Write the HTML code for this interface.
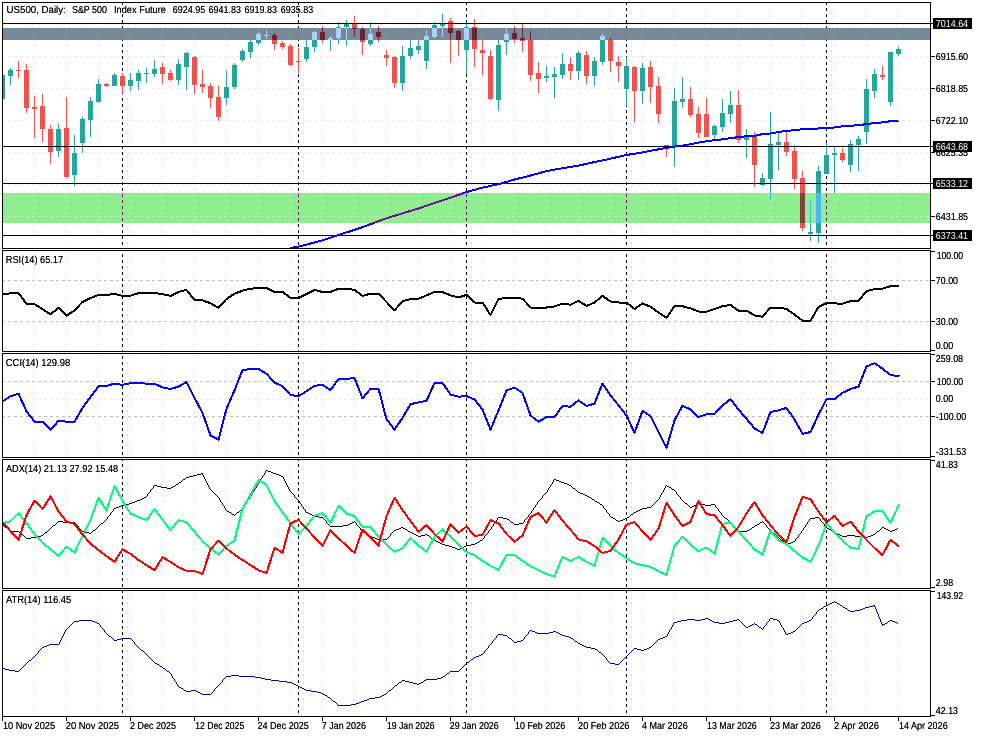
<!DOCTYPE html>
<html lang="en"><head><meta charset="utf-8"><title>US500 Daily chart</title>
<style>
html,body{margin:0;padding:0;background:#fff;overflow:hidden}
svg{display:block;position:absolute;left:0;top:0}
</style></head>
<body>
<svg width="983" height="737" viewBox="0 0 983 737" shape-rendering="crispEdges">
<rect x="0" y="0" width="983" height="737" fill="#fff"/>
<rect x="3" y="28" width="927" height="12" fill="#778899"/>
<rect x="3" y="193" width="927" height="30" fill="#90ee90"/>
<defs><clipPath id="band0"><rect x="3" y="28" width="927" height="12"/></clipPath><clipPath id="band1"><rect x="3" y="193" width="927" height="30"/></clipPath></defs>
<g id="grid">
<line x1="3" y1="24.5" x2="930" y2="24.5" stroke-dasharray="3 3" stroke-dashoffset="1" stroke="#f0eaf2"/>
<line x1="3" y1="56.5" x2="930" y2="56.5" stroke-dasharray="3 3" stroke-dashoffset="1" stroke="#f0eaf2"/>
<line x1="3" y1="88.5" x2="930" y2="88.5" stroke-dasharray="3 3" stroke-dashoffset="1" stroke="#f0eaf2"/>
<line x1="3" y1="120.5" x2="930" y2="120.5" stroke-dasharray="3 3" stroke-dashoffset="1" stroke="#f0eaf2"/>
<line x1="3" y1="152.5" x2="930" y2="152.5" stroke-dasharray="3 3" stroke-dashoffset="1" stroke="#f0eaf2"/>
<line x1="3" y1="184.5" x2="930" y2="184.5" stroke-dasharray="3 3" stroke-dashoffset="1" stroke="#f0eaf2"/>
<line x1="3" y1="216.5" x2="930" y2="216.5" stroke-dasharray="3 3" stroke-dashoffset="1" stroke="#a2fca2"/>
<line x1="34.5" y1="3" x2="34.5" y2="248" stroke-dasharray="3 3" stroke-dashoffset="1" stroke="#f0eaf2"/>
<g clip-path="url(#band0)"><line x1="34.5" y1="3" x2="34.5" y2="248" stroke-dasharray="3 3" stroke-dashoffset="1" stroke="#6fa583"/></g>
<g clip-path="url(#band1)"><line x1="34.5" y1="3" x2="34.5" y2="248" stroke-dasharray="3 3" stroke-dashoffset="1" stroke="#a2fca2"/></g>
<line x1="66.5" y1="3" x2="66.5" y2="248" stroke-dasharray="3 3" stroke-dashoffset="1" stroke="#f0eaf2"/>
<g clip-path="url(#band0)"><line x1="66.5" y1="3" x2="66.5" y2="248" stroke-dasharray="3 3" stroke-dashoffset="1" stroke="#6fa583"/></g>
<g clip-path="url(#band1)"><line x1="66.5" y1="3" x2="66.5" y2="248" stroke-dasharray="3 3" stroke-dashoffset="1" stroke="#a2fca2"/></g>
<line x1="98.5" y1="3" x2="98.5" y2="248" stroke-dasharray="3 3" stroke-dashoffset="1" stroke="#f0eaf2"/>
<g clip-path="url(#band0)"><line x1="98.5" y1="3" x2="98.5" y2="248" stroke-dasharray="3 3" stroke-dashoffset="1" stroke="#6fa583"/></g>
<g clip-path="url(#band1)"><line x1="98.5" y1="3" x2="98.5" y2="248" stroke-dasharray="3 3" stroke-dashoffset="1" stroke="#a2fca2"/></g>
<line x1="130.5" y1="3" x2="130.5" y2="248" stroke-dasharray="3 3" stroke-dashoffset="1" stroke="#f0eaf2"/>
<g clip-path="url(#band0)"><line x1="130.5" y1="3" x2="130.5" y2="248" stroke-dasharray="3 3" stroke-dashoffset="1" stroke="#6fa583"/></g>
<g clip-path="url(#band1)"><line x1="130.5" y1="3" x2="130.5" y2="248" stroke-dasharray="3 3" stroke-dashoffset="1" stroke="#a2fca2"/></g>
<line x1="162.5" y1="3" x2="162.5" y2="248" stroke-dasharray="3 3" stroke-dashoffset="1" stroke="#f0eaf2"/>
<g clip-path="url(#band0)"><line x1="162.5" y1="3" x2="162.5" y2="248" stroke-dasharray="3 3" stroke-dashoffset="1" stroke="#6fa583"/></g>
<g clip-path="url(#band1)"><line x1="162.5" y1="3" x2="162.5" y2="248" stroke-dasharray="3 3" stroke-dashoffset="1" stroke="#a2fca2"/></g>
<line x1="194.5" y1="3" x2="194.5" y2="248" stroke-dasharray="3 3" stroke-dashoffset="1" stroke="#f0eaf2"/>
<g clip-path="url(#band0)"><line x1="194.5" y1="3" x2="194.5" y2="248" stroke-dasharray="3 3" stroke-dashoffset="1" stroke="#6fa583"/></g>
<g clip-path="url(#band1)"><line x1="194.5" y1="3" x2="194.5" y2="248" stroke-dasharray="3 3" stroke-dashoffset="1" stroke="#a2fca2"/></g>
<line x1="226.5" y1="3" x2="226.5" y2="248" stroke-dasharray="3 3" stroke-dashoffset="1" stroke="#f0eaf2"/>
<g clip-path="url(#band0)"><line x1="226.5" y1="3" x2="226.5" y2="248" stroke-dasharray="3 3" stroke-dashoffset="1" stroke="#6fa583"/></g>
<g clip-path="url(#band1)"><line x1="226.5" y1="3" x2="226.5" y2="248" stroke-dasharray="3 3" stroke-dashoffset="1" stroke="#a2fca2"/></g>
<line x1="258.5" y1="3" x2="258.5" y2="248" stroke-dasharray="3 3" stroke-dashoffset="1" stroke="#f0eaf2"/>
<g clip-path="url(#band0)"><line x1="258.5" y1="3" x2="258.5" y2="248" stroke-dasharray="3 3" stroke-dashoffset="1" stroke="#6fa583"/></g>
<g clip-path="url(#band1)"><line x1="258.5" y1="3" x2="258.5" y2="248" stroke-dasharray="3 3" stroke-dashoffset="1" stroke="#a2fca2"/></g>
<line x1="290.5" y1="3" x2="290.5" y2="248" stroke-dasharray="3 3" stroke-dashoffset="1" stroke="#f0eaf2"/>
<g clip-path="url(#band0)"><line x1="290.5" y1="3" x2="290.5" y2="248" stroke-dasharray="3 3" stroke-dashoffset="1" stroke="#6fa583"/></g>
<g clip-path="url(#band1)"><line x1="290.5" y1="3" x2="290.5" y2="248" stroke-dasharray="3 3" stroke-dashoffset="1" stroke="#a2fca2"/></g>
<line x1="322.5" y1="3" x2="322.5" y2="248" stroke-dasharray="3 3" stroke-dashoffset="1" stroke="#f0eaf2"/>
<g clip-path="url(#band0)"><line x1="322.5" y1="3" x2="322.5" y2="248" stroke-dasharray="3 3" stroke-dashoffset="1" stroke="#6fa583"/></g>
<g clip-path="url(#band1)"><line x1="322.5" y1="3" x2="322.5" y2="248" stroke-dasharray="3 3" stroke-dashoffset="1" stroke="#a2fca2"/></g>
<line x1="354.5" y1="3" x2="354.5" y2="248" stroke-dasharray="3 3" stroke-dashoffset="1" stroke="#f0eaf2"/>
<g clip-path="url(#band0)"><line x1="354.5" y1="3" x2="354.5" y2="248" stroke-dasharray="3 3" stroke-dashoffset="1" stroke="#6fa583"/></g>
<g clip-path="url(#band1)"><line x1="354.5" y1="3" x2="354.5" y2="248" stroke-dasharray="3 3" stroke-dashoffset="1" stroke="#a2fca2"/></g>
<line x1="386.5" y1="3" x2="386.5" y2="248" stroke-dasharray="3 3" stroke-dashoffset="1" stroke="#f0eaf2"/>
<g clip-path="url(#band0)"><line x1="386.5" y1="3" x2="386.5" y2="248" stroke-dasharray="3 3" stroke-dashoffset="1" stroke="#6fa583"/></g>
<g clip-path="url(#band1)"><line x1="386.5" y1="3" x2="386.5" y2="248" stroke-dasharray="3 3" stroke-dashoffset="1" stroke="#a2fca2"/></g>
<line x1="418.5" y1="3" x2="418.5" y2="248" stroke-dasharray="3 3" stroke-dashoffset="1" stroke="#f0eaf2"/>
<g clip-path="url(#band0)"><line x1="418.5" y1="3" x2="418.5" y2="248" stroke-dasharray="3 3" stroke-dashoffset="1" stroke="#6fa583"/></g>
<g clip-path="url(#band1)"><line x1="418.5" y1="3" x2="418.5" y2="248" stroke-dasharray="3 3" stroke-dashoffset="1" stroke="#a2fca2"/></g>
<line x1="450.5" y1="3" x2="450.5" y2="248" stroke-dasharray="3 3" stroke-dashoffset="1" stroke="#f0eaf2"/>
<g clip-path="url(#band0)"><line x1="450.5" y1="3" x2="450.5" y2="248" stroke-dasharray="3 3" stroke-dashoffset="1" stroke="#6fa583"/></g>
<g clip-path="url(#band1)"><line x1="450.5" y1="3" x2="450.5" y2="248" stroke-dasharray="3 3" stroke-dashoffset="1" stroke="#a2fca2"/></g>
<line x1="482.5" y1="3" x2="482.5" y2="248" stroke-dasharray="3 3" stroke-dashoffset="1" stroke="#f0eaf2"/>
<g clip-path="url(#band0)"><line x1="482.5" y1="3" x2="482.5" y2="248" stroke-dasharray="3 3" stroke-dashoffset="1" stroke="#6fa583"/></g>
<g clip-path="url(#band1)"><line x1="482.5" y1="3" x2="482.5" y2="248" stroke-dasharray="3 3" stroke-dashoffset="1" stroke="#a2fca2"/></g>
<line x1="514.5" y1="3" x2="514.5" y2="248" stroke-dasharray="3 3" stroke-dashoffset="1" stroke="#f0eaf2"/>
<g clip-path="url(#band0)"><line x1="514.5" y1="3" x2="514.5" y2="248" stroke-dasharray="3 3" stroke-dashoffset="1" stroke="#6fa583"/></g>
<g clip-path="url(#band1)"><line x1="514.5" y1="3" x2="514.5" y2="248" stroke-dasharray="3 3" stroke-dashoffset="1" stroke="#a2fca2"/></g>
<line x1="546.5" y1="3" x2="546.5" y2="248" stroke-dasharray="3 3" stroke-dashoffset="1" stroke="#f0eaf2"/>
<g clip-path="url(#band0)"><line x1="546.5" y1="3" x2="546.5" y2="248" stroke-dasharray="3 3" stroke-dashoffset="1" stroke="#6fa583"/></g>
<g clip-path="url(#band1)"><line x1="546.5" y1="3" x2="546.5" y2="248" stroke-dasharray="3 3" stroke-dashoffset="1" stroke="#a2fca2"/></g>
<line x1="578.5" y1="3" x2="578.5" y2="248" stroke-dasharray="3 3" stroke-dashoffset="1" stroke="#f0eaf2"/>
<g clip-path="url(#band0)"><line x1="578.5" y1="3" x2="578.5" y2="248" stroke-dasharray="3 3" stroke-dashoffset="1" stroke="#6fa583"/></g>
<g clip-path="url(#band1)"><line x1="578.5" y1="3" x2="578.5" y2="248" stroke-dasharray="3 3" stroke-dashoffset="1" stroke="#a2fca2"/></g>
<line x1="610.5" y1="3" x2="610.5" y2="248" stroke-dasharray="3 3" stroke-dashoffset="1" stroke="#f0eaf2"/>
<g clip-path="url(#band0)"><line x1="610.5" y1="3" x2="610.5" y2="248" stroke-dasharray="3 3" stroke-dashoffset="1" stroke="#6fa583"/></g>
<g clip-path="url(#band1)"><line x1="610.5" y1="3" x2="610.5" y2="248" stroke-dasharray="3 3" stroke-dashoffset="1" stroke="#a2fca2"/></g>
<line x1="642.5" y1="3" x2="642.5" y2="248" stroke-dasharray="3 3" stroke-dashoffset="1" stroke="#f0eaf2"/>
<g clip-path="url(#band0)"><line x1="642.5" y1="3" x2="642.5" y2="248" stroke-dasharray="3 3" stroke-dashoffset="1" stroke="#6fa583"/></g>
<g clip-path="url(#band1)"><line x1="642.5" y1="3" x2="642.5" y2="248" stroke-dasharray="3 3" stroke-dashoffset="1" stroke="#a2fca2"/></g>
<line x1="674.5" y1="3" x2="674.5" y2="248" stroke-dasharray="3 3" stroke-dashoffset="1" stroke="#f0eaf2"/>
<g clip-path="url(#band0)"><line x1="674.5" y1="3" x2="674.5" y2="248" stroke-dasharray="3 3" stroke-dashoffset="1" stroke="#6fa583"/></g>
<g clip-path="url(#band1)"><line x1="674.5" y1="3" x2="674.5" y2="248" stroke-dasharray="3 3" stroke-dashoffset="1" stroke="#a2fca2"/></g>
<line x1="706.5" y1="3" x2="706.5" y2="248" stroke-dasharray="3 3" stroke-dashoffset="1" stroke="#f0eaf2"/>
<g clip-path="url(#band0)"><line x1="706.5" y1="3" x2="706.5" y2="248" stroke-dasharray="3 3" stroke-dashoffset="1" stroke="#6fa583"/></g>
<g clip-path="url(#band1)"><line x1="706.5" y1="3" x2="706.5" y2="248" stroke-dasharray="3 3" stroke-dashoffset="1" stroke="#a2fca2"/></g>
<line x1="738.5" y1="3" x2="738.5" y2="248" stroke-dasharray="3 3" stroke-dashoffset="1" stroke="#f0eaf2"/>
<g clip-path="url(#band0)"><line x1="738.5" y1="3" x2="738.5" y2="248" stroke-dasharray="3 3" stroke-dashoffset="1" stroke="#6fa583"/></g>
<g clip-path="url(#band1)"><line x1="738.5" y1="3" x2="738.5" y2="248" stroke-dasharray="3 3" stroke-dashoffset="1" stroke="#a2fca2"/></g>
<line x1="770.5" y1="3" x2="770.5" y2="248" stroke-dasharray="3 3" stroke-dashoffset="1" stroke="#f0eaf2"/>
<g clip-path="url(#band0)"><line x1="770.5" y1="3" x2="770.5" y2="248" stroke-dasharray="3 3" stroke-dashoffset="1" stroke="#6fa583"/></g>
<g clip-path="url(#band1)"><line x1="770.5" y1="3" x2="770.5" y2="248" stroke-dasharray="3 3" stroke-dashoffset="1" stroke="#a2fca2"/></g>
<line x1="802.5" y1="3" x2="802.5" y2="248" stroke-dasharray="3 3" stroke-dashoffset="1" stroke="#f0eaf2"/>
<g clip-path="url(#band0)"><line x1="802.5" y1="3" x2="802.5" y2="248" stroke-dasharray="3 3" stroke-dashoffset="1" stroke="#6fa583"/></g>
<g clip-path="url(#band1)"><line x1="802.5" y1="3" x2="802.5" y2="248" stroke-dasharray="3 3" stroke-dashoffset="1" stroke="#a2fca2"/></g>
<line x1="834.5" y1="3" x2="834.5" y2="248" stroke-dasharray="3 3" stroke-dashoffset="1" stroke="#f0eaf2"/>
<g clip-path="url(#band0)"><line x1="834.5" y1="3" x2="834.5" y2="248" stroke-dasharray="3 3" stroke-dashoffset="1" stroke="#6fa583"/></g>
<g clip-path="url(#band1)"><line x1="834.5" y1="3" x2="834.5" y2="248" stroke-dasharray="3 3" stroke-dashoffset="1" stroke="#a2fca2"/></g>
<line x1="866.5" y1="3" x2="866.5" y2="248" stroke-dasharray="3 3" stroke-dashoffset="1" stroke="#f0eaf2"/>
<g clip-path="url(#band0)"><line x1="866.5" y1="3" x2="866.5" y2="248" stroke-dasharray="3 3" stroke-dashoffset="1" stroke="#6fa583"/></g>
<g clip-path="url(#band1)"><line x1="866.5" y1="3" x2="866.5" y2="248" stroke-dasharray="3 3" stroke-dashoffset="1" stroke="#a2fca2"/></g>
<line x1="898.5" y1="3" x2="898.5" y2="248" stroke-dasharray="3 3" stroke-dashoffset="1" stroke="#f0eaf2"/>
<g clip-path="url(#band0)"><line x1="898.5" y1="3" x2="898.5" y2="248" stroke-dasharray="3 3" stroke-dashoffset="1" stroke="#6fa583"/></g>
<g clip-path="url(#band1)"><line x1="898.5" y1="3" x2="898.5" y2="248" stroke-dasharray="3 3" stroke-dashoffset="1" stroke="#a2fca2"/></g>
<line x1="34.5" y1="251" x2="34.5" y2="351" stroke-dasharray="3 3" stroke-dashoffset="3" stroke="#f0eaf2"/>
<line x1="66.5" y1="251" x2="66.5" y2="351" stroke-dasharray="3 3" stroke-dashoffset="3" stroke="#f0eaf2"/>
<line x1="98.5" y1="251" x2="98.5" y2="351" stroke-dasharray="3 3" stroke-dashoffset="3" stroke="#f0eaf2"/>
<line x1="130.5" y1="251" x2="130.5" y2="351" stroke-dasharray="3 3" stroke-dashoffset="3" stroke="#f0eaf2"/>
<line x1="162.5" y1="251" x2="162.5" y2="351" stroke-dasharray="3 3" stroke-dashoffset="3" stroke="#f0eaf2"/>
<line x1="194.5" y1="251" x2="194.5" y2="351" stroke-dasharray="3 3" stroke-dashoffset="3" stroke="#f0eaf2"/>
<line x1="226.5" y1="251" x2="226.5" y2="351" stroke-dasharray="3 3" stroke-dashoffset="3" stroke="#f0eaf2"/>
<line x1="258.5" y1="251" x2="258.5" y2="351" stroke-dasharray="3 3" stroke-dashoffset="3" stroke="#f0eaf2"/>
<line x1="290.5" y1="251" x2="290.5" y2="351" stroke-dasharray="3 3" stroke-dashoffset="3" stroke="#f0eaf2"/>
<line x1="322.5" y1="251" x2="322.5" y2="351" stroke-dasharray="3 3" stroke-dashoffset="3" stroke="#f0eaf2"/>
<line x1="354.5" y1="251" x2="354.5" y2="351" stroke-dasharray="3 3" stroke-dashoffset="3" stroke="#f0eaf2"/>
<line x1="386.5" y1="251" x2="386.5" y2="351" stroke-dasharray="3 3" stroke-dashoffset="3" stroke="#f0eaf2"/>
<line x1="418.5" y1="251" x2="418.5" y2="351" stroke-dasharray="3 3" stroke-dashoffset="3" stroke="#f0eaf2"/>
<line x1="450.5" y1="251" x2="450.5" y2="351" stroke-dasharray="3 3" stroke-dashoffset="3" stroke="#f0eaf2"/>
<line x1="482.5" y1="251" x2="482.5" y2="351" stroke-dasharray="3 3" stroke-dashoffset="3" stroke="#f0eaf2"/>
<line x1="514.5" y1="251" x2="514.5" y2="351" stroke-dasharray="3 3" stroke-dashoffset="3" stroke="#f0eaf2"/>
<line x1="546.5" y1="251" x2="546.5" y2="351" stroke-dasharray="3 3" stroke-dashoffset="3" stroke="#f0eaf2"/>
<line x1="578.5" y1="251" x2="578.5" y2="351" stroke-dasharray="3 3" stroke-dashoffset="3" stroke="#f0eaf2"/>
<line x1="610.5" y1="251" x2="610.5" y2="351" stroke-dasharray="3 3" stroke-dashoffset="3" stroke="#f0eaf2"/>
<line x1="642.5" y1="251" x2="642.5" y2="351" stroke-dasharray="3 3" stroke-dashoffset="3" stroke="#f0eaf2"/>
<line x1="674.5" y1="251" x2="674.5" y2="351" stroke-dasharray="3 3" stroke-dashoffset="3" stroke="#f0eaf2"/>
<line x1="706.5" y1="251" x2="706.5" y2="351" stroke-dasharray="3 3" stroke-dashoffset="3" stroke="#f0eaf2"/>
<line x1="738.5" y1="251" x2="738.5" y2="351" stroke-dasharray="3 3" stroke-dashoffset="3" stroke="#f0eaf2"/>
<line x1="770.5" y1="251" x2="770.5" y2="351" stroke-dasharray="3 3" stroke-dashoffset="3" stroke="#f0eaf2"/>
<line x1="802.5" y1="251" x2="802.5" y2="351" stroke-dasharray="3 3" stroke-dashoffset="3" stroke="#f0eaf2"/>
<line x1="834.5" y1="251" x2="834.5" y2="351" stroke-dasharray="3 3" stroke-dashoffset="3" stroke="#f0eaf2"/>
<line x1="866.5" y1="251" x2="866.5" y2="351" stroke-dasharray="3 3" stroke-dashoffset="3" stroke="#f0eaf2"/>
<line x1="898.5" y1="251" x2="898.5" y2="351" stroke-dasharray="3 3" stroke-dashoffset="3" stroke="#f0eaf2"/>
<line x1="34.5" y1="354" x2="34.5" y2="457" stroke-dasharray="3 3" stroke-dashoffset="4" stroke="#f0eaf2"/>
<line x1="66.5" y1="354" x2="66.5" y2="457" stroke-dasharray="3 3" stroke-dashoffset="4" stroke="#f0eaf2"/>
<line x1="98.5" y1="354" x2="98.5" y2="457" stroke-dasharray="3 3" stroke-dashoffset="4" stroke="#f0eaf2"/>
<line x1="130.5" y1="354" x2="130.5" y2="457" stroke-dasharray="3 3" stroke-dashoffset="4" stroke="#f0eaf2"/>
<line x1="162.5" y1="354" x2="162.5" y2="457" stroke-dasharray="3 3" stroke-dashoffset="4" stroke="#f0eaf2"/>
<line x1="194.5" y1="354" x2="194.5" y2="457" stroke-dasharray="3 3" stroke-dashoffset="4" stroke="#f0eaf2"/>
<line x1="226.5" y1="354" x2="226.5" y2="457" stroke-dasharray="3 3" stroke-dashoffset="4" stroke="#f0eaf2"/>
<line x1="258.5" y1="354" x2="258.5" y2="457" stroke-dasharray="3 3" stroke-dashoffset="4" stroke="#f0eaf2"/>
<line x1="290.5" y1="354" x2="290.5" y2="457" stroke-dasharray="3 3" stroke-dashoffset="4" stroke="#f0eaf2"/>
<line x1="322.5" y1="354" x2="322.5" y2="457" stroke-dasharray="3 3" stroke-dashoffset="4" stroke="#f0eaf2"/>
<line x1="354.5" y1="354" x2="354.5" y2="457" stroke-dasharray="3 3" stroke-dashoffset="4" stroke="#f0eaf2"/>
<line x1="386.5" y1="354" x2="386.5" y2="457" stroke-dasharray="3 3" stroke-dashoffset="4" stroke="#f0eaf2"/>
<line x1="418.5" y1="354" x2="418.5" y2="457" stroke-dasharray="3 3" stroke-dashoffset="4" stroke="#f0eaf2"/>
<line x1="450.5" y1="354" x2="450.5" y2="457" stroke-dasharray="3 3" stroke-dashoffset="4" stroke="#f0eaf2"/>
<line x1="482.5" y1="354" x2="482.5" y2="457" stroke-dasharray="3 3" stroke-dashoffset="4" stroke="#f0eaf2"/>
<line x1="514.5" y1="354" x2="514.5" y2="457" stroke-dasharray="3 3" stroke-dashoffset="4" stroke="#f0eaf2"/>
<line x1="546.5" y1="354" x2="546.5" y2="457" stroke-dasharray="3 3" stroke-dashoffset="4" stroke="#f0eaf2"/>
<line x1="578.5" y1="354" x2="578.5" y2="457" stroke-dasharray="3 3" stroke-dashoffset="4" stroke="#f0eaf2"/>
<line x1="610.5" y1="354" x2="610.5" y2="457" stroke-dasharray="3 3" stroke-dashoffset="4" stroke="#f0eaf2"/>
<line x1="642.5" y1="354" x2="642.5" y2="457" stroke-dasharray="3 3" stroke-dashoffset="4" stroke="#f0eaf2"/>
<line x1="674.5" y1="354" x2="674.5" y2="457" stroke-dasharray="3 3" stroke-dashoffset="4" stroke="#f0eaf2"/>
<line x1="706.5" y1="354" x2="706.5" y2="457" stroke-dasharray="3 3" stroke-dashoffset="4" stroke="#f0eaf2"/>
<line x1="738.5" y1="354" x2="738.5" y2="457" stroke-dasharray="3 3" stroke-dashoffset="4" stroke="#f0eaf2"/>
<line x1="770.5" y1="354" x2="770.5" y2="457" stroke-dasharray="3 3" stroke-dashoffset="4" stroke="#f0eaf2"/>
<line x1="802.5" y1="354" x2="802.5" y2="457" stroke-dasharray="3 3" stroke-dashoffset="4" stroke="#f0eaf2"/>
<line x1="834.5" y1="354" x2="834.5" y2="457" stroke-dasharray="3 3" stroke-dashoffset="4" stroke="#f0eaf2"/>
<line x1="866.5" y1="354" x2="866.5" y2="457" stroke-dasharray="3 3" stroke-dashoffset="4" stroke="#f0eaf2"/>
<line x1="898.5" y1="354" x2="898.5" y2="457" stroke-dasharray="3 3" stroke-dashoffset="4" stroke="#f0eaf2"/>
<line x1="34.5" y1="460" x2="34.5" y2="588" stroke-dasharray="3 3" stroke-dashoffset="2" stroke="#f0eaf2"/>
<line x1="66.5" y1="460" x2="66.5" y2="588" stroke-dasharray="3 3" stroke-dashoffset="2" stroke="#f0eaf2"/>
<line x1="98.5" y1="460" x2="98.5" y2="588" stroke-dasharray="3 3" stroke-dashoffset="2" stroke="#f0eaf2"/>
<line x1="130.5" y1="460" x2="130.5" y2="588" stroke-dasharray="3 3" stroke-dashoffset="2" stroke="#f0eaf2"/>
<line x1="162.5" y1="460" x2="162.5" y2="588" stroke-dasharray="3 3" stroke-dashoffset="2" stroke="#f0eaf2"/>
<line x1="194.5" y1="460" x2="194.5" y2="588" stroke-dasharray="3 3" stroke-dashoffset="2" stroke="#f0eaf2"/>
<line x1="226.5" y1="460" x2="226.5" y2="588" stroke-dasharray="3 3" stroke-dashoffset="2" stroke="#f0eaf2"/>
<line x1="258.5" y1="460" x2="258.5" y2="588" stroke-dasharray="3 3" stroke-dashoffset="2" stroke="#f0eaf2"/>
<line x1="290.5" y1="460" x2="290.5" y2="588" stroke-dasharray="3 3" stroke-dashoffset="2" stroke="#f0eaf2"/>
<line x1="322.5" y1="460" x2="322.5" y2="588" stroke-dasharray="3 3" stroke-dashoffset="2" stroke="#f0eaf2"/>
<line x1="354.5" y1="460" x2="354.5" y2="588" stroke-dasharray="3 3" stroke-dashoffset="2" stroke="#f0eaf2"/>
<line x1="386.5" y1="460" x2="386.5" y2="588" stroke-dasharray="3 3" stroke-dashoffset="2" stroke="#f0eaf2"/>
<line x1="418.5" y1="460" x2="418.5" y2="588" stroke-dasharray="3 3" stroke-dashoffset="2" stroke="#f0eaf2"/>
<line x1="450.5" y1="460" x2="450.5" y2="588" stroke-dasharray="3 3" stroke-dashoffset="2" stroke="#f0eaf2"/>
<line x1="482.5" y1="460" x2="482.5" y2="588" stroke-dasharray="3 3" stroke-dashoffset="2" stroke="#f0eaf2"/>
<line x1="514.5" y1="460" x2="514.5" y2="588" stroke-dasharray="3 3" stroke-dashoffset="2" stroke="#f0eaf2"/>
<line x1="546.5" y1="460" x2="546.5" y2="588" stroke-dasharray="3 3" stroke-dashoffset="2" stroke="#f0eaf2"/>
<line x1="578.5" y1="460" x2="578.5" y2="588" stroke-dasharray="3 3" stroke-dashoffset="2" stroke="#f0eaf2"/>
<line x1="610.5" y1="460" x2="610.5" y2="588" stroke-dasharray="3 3" stroke-dashoffset="2" stroke="#f0eaf2"/>
<line x1="642.5" y1="460" x2="642.5" y2="588" stroke-dasharray="3 3" stroke-dashoffset="2" stroke="#f0eaf2"/>
<line x1="674.5" y1="460" x2="674.5" y2="588" stroke-dasharray="3 3" stroke-dashoffset="2" stroke="#f0eaf2"/>
<line x1="706.5" y1="460" x2="706.5" y2="588" stroke-dasharray="3 3" stroke-dashoffset="2" stroke="#f0eaf2"/>
<line x1="738.5" y1="460" x2="738.5" y2="588" stroke-dasharray="3 3" stroke-dashoffset="2" stroke="#f0eaf2"/>
<line x1="770.5" y1="460" x2="770.5" y2="588" stroke-dasharray="3 3" stroke-dashoffset="2" stroke="#f0eaf2"/>
<line x1="802.5" y1="460" x2="802.5" y2="588" stroke-dasharray="3 3" stroke-dashoffset="2" stroke="#f0eaf2"/>
<line x1="834.5" y1="460" x2="834.5" y2="588" stroke-dasharray="3 3" stroke-dashoffset="2" stroke="#f0eaf2"/>
<line x1="866.5" y1="460" x2="866.5" y2="588" stroke-dasharray="3 3" stroke-dashoffset="2" stroke="#f0eaf2"/>
<line x1="898.5" y1="460" x2="898.5" y2="588" stroke-dasharray="3 3" stroke-dashoffset="2" stroke="#f0eaf2"/>
<line x1="34.5" y1="591" x2="34.5" y2="716" stroke-dasharray="3 3" stroke-dashoffset="1" stroke="#f0eaf2"/>
<line x1="66.5" y1="591" x2="66.5" y2="716" stroke-dasharray="3 3" stroke-dashoffset="1" stroke="#f0eaf2"/>
<line x1="98.5" y1="591" x2="98.5" y2="716" stroke-dasharray="3 3" stroke-dashoffset="1" stroke="#f0eaf2"/>
<line x1="130.5" y1="591" x2="130.5" y2="716" stroke-dasharray="3 3" stroke-dashoffset="1" stroke="#f0eaf2"/>
<line x1="162.5" y1="591" x2="162.5" y2="716" stroke-dasharray="3 3" stroke-dashoffset="1" stroke="#f0eaf2"/>
<line x1="194.5" y1="591" x2="194.5" y2="716" stroke-dasharray="3 3" stroke-dashoffset="1" stroke="#f0eaf2"/>
<line x1="226.5" y1="591" x2="226.5" y2="716" stroke-dasharray="3 3" stroke-dashoffset="1" stroke="#f0eaf2"/>
<line x1="258.5" y1="591" x2="258.5" y2="716" stroke-dasharray="3 3" stroke-dashoffset="1" stroke="#f0eaf2"/>
<line x1="290.5" y1="591" x2="290.5" y2="716" stroke-dasharray="3 3" stroke-dashoffset="1" stroke="#f0eaf2"/>
<line x1="322.5" y1="591" x2="322.5" y2="716" stroke-dasharray="3 3" stroke-dashoffset="1" stroke="#f0eaf2"/>
<line x1="354.5" y1="591" x2="354.5" y2="716" stroke-dasharray="3 3" stroke-dashoffset="1" stroke="#f0eaf2"/>
<line x1="386.5" y1="591" x2="386.5" y2="716" stroke-dasharray="3 3" stroke-dashoffset="1" stroke="#f0eaf2"/>
<line x1="418.5" y1="591" x2="418.5" y2="716" stroke-dasharray="3 3" stroke-dashoffset="1" stroke="#f0eaf2"/>
<line x1="450.5" y1="591" x2="450.5" y2="716" stroke-dasharray="3 3" stroke-dashoffset="1" stroke="#f0eaf2"/>
<line x1="482.5" y1="591" x2="482.5" y2="716" stroke-dasharray="3 3" stroke-dashoffset="1" stroke="#f0eaf2"/>
<line x1="514.5" y1="591" x2="514.5" y2="716" stroke-dasharray="3 3" stroke-dashoffset="1" stroke="#f0eaf2"/>
<line x1="546.5" y1="591" x2="546.5" y2="716" stroke-dasharray="3 3" stroke-dashoffset="1" stroke="#f0eaf2"/>
<line x1="578.5" y1="591" x2="578.5" y2="716" stroke-dasharray="3 3" stroke-dashoffset="1" stroke="#f0eaf2"/>
<line x1="610.5" y1="591" x2="610.5" y2="716" stroke-dasharray="3 3" stroke-dashoffset="1" stroke="#f0eaf2"/>
<line x1="642.5" y1="591" x2="642.5" y2="716" stroke-dasharray="3 3" stroke-dashoffset="1" stroke="#f0eaf2"/>
<line x1="674.5" y1="591" x2="674.5" y2="716" stroke-dasharray="3 3" stroke-dashoffset="1" stroke="#f0eaf2"/>
<line x1="706.5" y1="591" x2="706.5" y2="716" stroke-dasharray="3 3" stroke-dashoffset="1" stroke="#f0eaf2"/>
<line x1="738.5" y1="591" x2="738.5" y2="716" stroke-dasharray="3 3" stroke-dashoffset="1" stroke="#f0eaf2"/>
<line x1="770.5" y1="591" x2="770.5" y2="716" stroke-dasharray="3 3" stroke-dashoffset="1" stroke="#f0eaf2"/>
<line x1="802.5" y1="591" x2="802.5" y2="716" stroke-dasharray="3 3" stroke-dashoffset="1" stroke="#f0eaf2"/>
<line x1="834.5" y1="591" x2="834.5" y2="716" stroke-dasharray="3 3" stroke-dashoffset="1" stroke="#f0eaf2"/>
<line x1="866.5" y1="591" x2="866.5" y2="716" stroke-dasharray="3 3" stroke-dashoffset="1" stroke="#f0eaf2"/>
<line x1="898.5" y1="591" x2="898.5" y2="716" stroke-dasharray="3 3" stroke-dashoffset="1" stroke="#f0eaf2"/>
</g>
<line x1="3" y1="280.5" x2="930" y2="280.5" stroke-dasharray="3 3" stroke-dashoffset="1" stroke="#c0c0c0"/>
<line x1="3" y1="321.5" x2="930" y2="321.5" stroke-dasharray="3 3" stroke-dashoffset="1" stroke="#c0c0c0"/>
<line x1="3" y1="381.5" x2="930" y2="381.5" stroke-dasharray="3 3" stroke-dashoffset="1" stroke="#c0c0c0"/>
<line x1="3" y1="416.5" x2="930" y2="416.5" stroke-dasharray="3 3" stroke-dashoffset="1" stroke="#c0c0c0"/>
<line x1="3" y1="399.5" x2="930" y2="399.5" stroke-dasharray="3 3" stroke-dashoffset="1" stroke="#f0eaf2"/>
<g id="sep">
<line x1="122.5" y1="3" x2="122.5" y2="248" stroke-dasharray="3 3" stroke-dashoffset="1" stroke="#000"/>
<g clip-path="url(#band0)"><line x1="122.5" y1="3" x2="122.5" y2="248" stroke-dasharray="3 3" stroke-dashoffset="1" stroke="#887766"/></g>
<g clip-path="url(#band1)"><line x1="122.5" y1="3" x2="122.5" y2="248" stroke-dasharray="3 3" stroke-dashoffset="1" stroke="#6f116f"/></g>
<line x1="122.5" y1="251" x2="122.5" y2="351" stroke-dasharray="3 3" stroke-dashoffset="3" stroke="#000"/>
<line x1="122.5" y1="354" x2="122.5" y2="457" stroke-dasharray="3 3" stroke-dashoffset="4" stroke="#000"/>
<line x1="122.5" y1="460" x2="122.5" y2="588" stroke-dasharray="3 3" stroke-dashoffset="2" stroke="#000"/>
<line x1="122.5" y1="591" x2="122.5" y2="716" stroke-dasharray="3 3" stroke-dashoffset="1" stroke="#000"/>
<line x1="298.5" y1="3" x2="298.5" y2="248" stroke-dasharray="3 3" stroke-dashoffset="1" stroke="#000"/>
<g clip-path="url(#band0)"><line x1="298.5" y1="3" x2="298.5" y2="248" stroke-dasharray="3 3" stroke-dashoffset="1" stroke="#887766"/></g>
<g clip-path="url(#band1)"><line x1="298.5" y1="3" x2="298.5" y2="248" stroke-dasharray="3 3" stroke-dashoffset="1" stroke="#6f116f"/></g>
<line x1="298.5" y1="251" x2="298.5" y2="351" stroke-dasharray="3 3" stroke-dashoffset="3" stroke="#000"/>
<line x1="298.5" y1="354" x2="298.5" y2="457" stroke-dasharray="3 3" stroke-dashoffset="4" stroke="#000"/>
<line x1="298.5" y1="460" x2="298.5" y2="588" stroke-dasharray="3 3" stroke-dashoffset="2" stroke="#000"/>
<line x1="298.5" y1="591" x2="298.5" y2="716" stroke-dasharray="3 3" stroke-dashoffset="1" stroke="#000"/>
<line x1="466.5" y1="3" x2="466.5" y2="248" stroke-dasharray="3 3" stroke-dashoffset="1" stroke="#000"/>
<g clip-path="url(#band0)"><line x1="466.5" y1="3" x2="466.5" y2="248" stroke-dasharray="3 3" stroke-dashoffset="1" stroke="#887766"/></g>
<g clip-path="url(#band1)"><line x1="466.5" y1="3" x2="466.5" y2="248" stroke-dasharray="3 3" stroke-dashoffset="1" stroke="#6f116f"/></g>
<line x1="466.5" y1="251" x2="466.5" y2="351" stroke-dasharray="3 3" stroke-dashoffset="3" stroke="#000"/>
<line x1="466.5" y1="354" x2="466.5" y2="457" stroke-dasharray="3 3" stroke-dashoffset="4" stroke="#000"/>
<line x1="466.5" y1="460" x2="466.5" y2="588" stroke-dasharray="3 3" stroke-dashoffset="2" stroke="#000"/>
<line x1="466.5" y1="591" x2="466.5" y2="716" stroke-dasharray="3 3" stroke-dashoffset="1" stroke="#000"/>
<line x1="626.5" y1="3" x2="626.5" y2="248" stroke-dasharray="3 3" stroke-dashoffset="1" stroke="#000"/>
<g clip-path="url(#band0)"><line x1="626.5" y1="3" x2="626.5" y2="248" stroke-dasharray="3 3" stroke-dashoffset="1" stroke="#887766"/></g>
<g clip-path="url(#band1)"><line x1="626.5" y1="3" x2="626.5" y2="248" stroke-dasharray="3 3" stroke-dashoffset="1" stroke="#6f116f"/></g>
<line x1="626.5" y1="251" x2="626.5" y2="351" stroke-dasharray="3 3" stroke-dashoffset="3" stroke="#000"/>
<line x1="626.5" y1="354" x2="626.5" y2="457" stroke-dasharray="3 3" stroke-dashoffset="4" stroke="#000"/>
<line x1="626.5" y1="460" x2="626.5" y2="588" stroke-dasharray="3 3" stroke-dashoffset="2" stroke="#000"/>
<line x1="626.5" y1="591" x2="626.5" y2="716" stroke-dasharray="3 3" stroke-dashoffset="1" stroke="#000"/>
<line x1="826.5" y1="3" x2="826.5" y2="248" stroke-dasharray="3 3" stroke-dashoffset="1" stroke="#000"/>
<g clip-path="url(#band0)"><line x1="826.5" y1="3" x2="826.5" y2="248" stroke-dasharray="3 3" stroke-dashoffset="1" stroke="#887766"/></g>
<g clip-path="url(#band1)"><line x1="826.5" y1="3" x2="826.5" y2="248" stroke-dasharray="3 3" stroke-dashoffset="1" stroke="#6f116f"/></g>
<line x1="826.5" y1="251" x2="826.5" y2="351" stroke-dasharray="3 3" stroke-dashoffset="3" stroke="#000"/>
<line x1="826.5" y1="354" x2="826.5" y2="457" stroke-dasharray="3 3" stroke-dashoffset="4" stroke="#000"/>
<line x1="826.5" y1="460" x2="826.5" y2="588" stroke-dasharray="3 3" stroke-dashoffset="2" stroke="#000"/>
<line x1="826.5" y1="591" x2="826.5" y2="716" stroke-dasharray="3 3" stroke-dashoffset="1" stroke="#000"/>
</g>
<g id="candles">
<rect x="3" y="75" width="2" height="24" fill="#26a69a"/>
<rect x="10" y="68" width="1" height="17" fill="#26a69a"/>
<rect x="8" y="70" width="5" height="6" fill="#26a69a"/>
<rect x="18" y="61" width="1" height="17" fill="#ef5350"/>
<rect x="16" y="70" width="5" height="1" fill="#ef5350"/>
<rect x="26" y="64" width="1" height="49" fill="#ef5350"/>
<rect x="24" y="70" width="5" height="38" fill="#ef5350"/>
<rect x="34" y="96" width="1" height="42" fill="#ef5350"/>
<rect x="32" y="107" width="5" height="2" fill="#ef5350"/>
<rect x="42" y="94" width="1" height="48" fill="#ef5350"/>
<rect x="40" y="106" width="5" height="23" fill="#ef5350"/>
<rect x="50" y="125" width="1" height="39" fill="#ef5350"/>
<rect x="48" y="129" width="5" height="23" fill="#ef5350"/>
<rect x="58" y="124" width="1" height="33" fill="#26a69a"/>
<rect x="56" y="129" width="5" height="22" fill="#26a69a"/>
<rect x="66" y="97" width="1" height="81" fill="#ef5350"/>
<rect x="64" y="128" width="5" height="49" fill="#ef5350"/>
<rect x="74" y="135" width="1" height="51" fill="#26a69a"/>
<rect x="72" y="153" width="5" height="22" fill="#26a69a"/>
<rect x="82" y="117" width="1" height="36" fill="#26a69a"/>
<rect x="80" y="119" width="5" height="24" fill="#26a69a"/>
<rect x="90" y="97" width="1" height="40" fill="#26a69a"/>
<rect x="88" y="101" width="5" height="19" fill="#26a69a"/>
<rect x="98" y="79" width="1" height="24" fill="#26a69a"/>
<rect x="96" y="84" width="5" height="18" fill="#26a69a"/>
<rect x="106" y="83" width="1" height="4" fill="#ef5350"/>
<rect x="104" y="84" width="5" height="2" fill="#ef5350"/>
<rect x="114" y="73" width="1" height="13" fill="#26a69a"/>
<rect x="112" y="75" width="5" height="11" fill="#26a69a"/>
<rect x="122" y="73" width="1" height="22" fill="#ef5350"/>
<rect x="120" y="76" width="5" height="10" fill="#ef5350"/>
<rect x="130" y="73" width="1" height="18" fill="#26a69a"/>
<rect x="128" y="80" width="5" height="6" fill="#26a69a"/>
<rect x="138" y="70" width="1" height="20" fill="#26a69a"/>
<rect x="136" y="73" width="5" height="8" fill="#26a69a"/>
<rect x="146" y="68" width="1" height="15" fill="#26a69a"/>
<rect x="144" y="73" width="5" height="1" fill="#26a69a"/>
<rect x="154" y="60" width="1" height="17" fill="#26a69a"/>
<rect x="152" y="69" width="5" height="5" fill="#26a69a"/>
<rect x="162" y="63" width="1" height="21" fill="#ef5350"/>
<rect x="160" y="67" width="5" height="7" fill="#ef5350"/>
<rect x="170" y="70" width="1" height="11" fill="#ef5350"/>
<rect x="168" y="73" width="5" height="7" fill="#ef5350"/>
<rect x="178" y="59" width="1" height="26" fill="#26a69a"/>
<rect x="176" y="64" width="5" height="16" fill="#26a69a"/>
<rect x="186" y="52" width="1" height="38" fill="#26a69a"/>
<rect x="184" y="53" width="5" height="14" fill="#26a69a"/>
<rect x="194" y="56" width="1" height="38" fill="#ef5350"/>
<rect x="192" y="57" width="5" height="28" fill="#ef5350"/>
<rect x="202" y="70" width="1" height="23" fill="#ef5350"/>
<rect x="200" y="84" width="5" height="3" fill="#ef5350"/>
<rect x="210" y="83" width="1" height="25" fill="#ef5350"/>
<rect x="208" y="86" width="5" height="12" fill="#ef5350"/>
<rect x="218" y="86" width="1" height="35" fill="#ef5350"/>
<rect x="216" y="97" width="5" height="20" fill="#ef5350"/>
<rect x="226" y="71" width="1" height="34" fill="#26a69a"/>
<rect x="224" y="87" width="5" height="11" fill="#26a69a"/>
<rect x="234" y="63" width="1" height="26" fill="#26a69a"/>
<rect x="232" y="65" width="5" height="22" fill="#26a69a"/>
<rect x="242" y="49" width="1" height="13" fill="#26a69a"/>
<rect x="240" y="51" width="5" height="9" fill="#26a69a"/>
<rect x="250" y="40" width="1" height="18" fill="#26a69a"/>
<rect x="248" y="42" width="5" height="10" fill="#26a69a"/>
<rect x="258" y="32" width="1" height="8" fill="#aed1fc"/>
<rect x="258" y="40" width="1" height="5" fill="#26a69a"/>
<rect x="256" y="34" width="5" height="6" fill="#aed1fc"/>
<rect x="256" y="40" width="5" height="3" fill="#26a69a"/>
<rect x="266" y="30" width="1" height="9" fill="#aed1fc"/>
<rect x="264" y="35" width="5" height="1" fill="#aed1fc"/>
<rect x="274" y="33" width="1" height="7" fill="#672436"/>
<rect x="274" y="40" width="1" height="10" fill="#ef5350"/>
<rect x="272" y="35" width="5" height="5" fill="#672436"/>
<rect x="272" y="40" width="5" height="4" fill="#ef5350"/>
<rect x="282" y="41" width="1" height="8" fill="#ef5350"/>
<rect x="280" y="43" width="5" height="4" fill="#ef5350"/>
<rect x="290" y="44" width="1" height="22" fill="#ef5350"/>
<rect x="288" y="46" width="5" height="19" fill="#ef5350"/>
<rect x="298" y="48" width="1" height="25" fill="#ef5350"/>
<rect x="296" y="61" width="5" height="1" fill="#ef5350"/>
<rect x="306" y="40" width="1" height="22" fill="#26a69a"/>
<rect x="304" y="47" width="5" height="12" fill="#26a69a"/>
<rect x="314" y="31" width="1" height="9" fill="#aed1fc"/>
<rect x="314" y="40" width="1" height="12" fill="#26a69a"/>
<rect x="312" y="32" width="5" height="8" fill="#aed1fc"/>
<rect x="312" y="40" width="5" height="7" fill="#26a69a"/>
<rect x="322" y="26" width="1" height="2" fill="#ef5350"/>
<rect x="322" y="28" width="1" height="12" fill="#672436"/>
<rect x="322" y="40" width="1" height="3" fill="#ef5350"/>
<rect x="320" y="32" width="5" height="8" fill="#672436"/>
<rect x="330" y="36" width="1" height="4" fill="#aed1fc"/>
<rect x="330" y="40" width="1" height="11" fill="#26a69a"/>
<rect x="328" y="38" width="5" height="2" fill="#aed1fc"/>
<rect x="338" y="22" width="1" height="6" fill="#26a69a"/>
<rect x="338" y="28" width="1" height="12" fill="#aed1fc"/>
<rect x="338" y="40" width="1" height="4" fill="#26a69a"/>
<rect x="336" y="27" width="5" height="1" fill="#26a69a"/>
<rect x="336" y="28" width="5" height="10" fill="#aed1fc"/>
<rect x="346" y="20" width="1" height="8" fill="#26a69a"/>
<rect x="346" y="28" width="1" height="12" fill="#aed1fc"/>
<rect x="346" y="40" width="1" height="6" fill="#26a69a"/>
<rect x="344" y="24" width="5" height="3" fill="#26a69a"/>
<rect x="354" y="16" width="1" height="12" fill="#ef5350"/>
<rect x="354" y="28" width="1" height="9" fill="#672436"/>
<rect x="352" y="24" width="5" height="4" fill="#ef5350"/>
<rect x="352" y="28" width="5" height="1" fill="#672436"/>
<rect x="362" y="27" width="1" height="1" fill="#ef5350"/>
<rect x="362" y="28" width="1" height="12" fill="#672436"/>
<rect x="362" y="40" width="1" height="15" fill="#ef5350"/>
<rect x="360" y="29" width="5" height="11" fill="#672436"/>
<rect x="360" y="40" width="5" height="2" fill="#ef5350"/>
<rect x="370" y="22" width="1" height="6" fill="#26a69a"/>
<rect x="370" y="28" width="1" height="12" fill="#aed1fc"/>
<rect x="370" y="40" width="1" height="6" fill="#26a69a"/>
<rect x="368" y="34" width="5" height="6" fill="#aed1fc"/>
<rect x="368" y="40" width="5" height="4" fill="#26a69a"/>
<rect x="378" y="26" width="1" height="2" fill="#ef5350"/>
<rect x="378" y="28" width="1" height="12" fill="#672436"/>
<rect x="378" y="40" width="1" height="2" fill="#ef5350"/>
<rect x="376" y="32" width="5" height="5" fill="#672436"/>
<rect x="386" y="50" width="1" height="16" fill="#ef5350"/>
<rect x="384" y="55" width="5" height="3" fill="#ef5350"/>
<rect x="394" y="56" width="1" height="32" fill="#ef5350"/>
<rect x="392" y="57" width="5" height="26" fill="#ef5350"/>
<rect x="402" y="46" width="1" height="45" fill="#26a69a"/>
<rect x="400" y="56" width="5" height="27" fill="#26a69a"/>
<rect x="410" y="40" width="1" height="19" fill="#26a69a"/>
<rect x="408" y="48" width="5" height="8" fill="#26a69a"/>
<rect x="418" y="40" width="1" height="14" fill="#26a69a"/>
<rect x="416" y="46" width="5" height="4" fill="#26a69a"/>
<rect x="426" y="30" width="1" height="10" fill="#aed1fc"/>
<rect x="426" y="40" width="1" height="29" fill="#26a69a"/>
<rect x="424" y="36" width="5" height="4" fill="#aed1fc"/>
<rect x="424" y="40" width="5" height="21" fill="#26a69a"/>
<rect x="434" y="22" width="1" height="6" fill="#26a69a"/>
<rect x="434" y="28" width="1" height="10" fill="#aed1fc"/>
<rect x="432" y="25" width="5" height="3" fill="#26a69a"/>
<rect x="432" y="28" width="5" height="9" fill="#aed1fc"/>
<rect x="442" y="14" width="1" height="14" fill="#26a69a"/>
<rect x="442" y="28" width="1" height="9" fill="#aed1fc"/>
<rect x="440" y="24" width="5" height="2" fill="#26a69a"/>
<rect x="450" y="18" width="1" height="10" fill="#ef5350"/>
<rect x="450" y="28" width="1" height="12" fill="#672436"/>
<rect x="450" y="40" width="1" height="23" fill="#ef5350"/>
<rect x="448" y="21" width="5" height="7" fill="#ef5350"/>
<rect x="448" y="28" width="5" height="5" fill="#672436"/>
<rect x="458" y="30" width="1" height="10" fill="#672436"/>
<rect x="458" y="40" width="1" height="16" fill="#ef5350"/>
<rect x="456" y="31" width="5" height="9" fill="#672436"/>
<rect x="466" y="22" width="1" height="6" fill="#26a69a"/>
<rect x="466" y="28" width="1" height="12" fill="#aed1fc"/>
<rect x="466" y="40" width="1" height="34" fill="#26a69a"/>
<rect x="464" y="27" width="5" height="1" fill="#26a69a"/>
<rect x="464" y="28" width="5" height="12" fill="#aed1fc"/>
<rect x="464" y="40" width="5" height="10" fill="#26a69a"/>
<rect x="474" y="19" width="1" height="9" fill="#ef5350"/>
<rect x="474" y="28" width="1" height="12" fill="#672436"/>
<rect x="474" y="40" width="1" height="27" fill="#ef5350"/>
<rect x="472" y="27" width="5" height="1" fill="#ef5350"/>
<rect x="472" y="28" width="5" height="12" fill="#672436"/>
<rect x="472" y="40" width="5" height="9" fill="#ef5350"/>
<rect x="482" y="40" width="1" height="35" fill="#ef5350"/>
<rect x="480" y="50" width="5" height="3" fill="#ef5350"/>
<rect x="490" y="50" width="1" height="50" fill="#ef5350"/>
<rect x="488" y="56" width="5" height="43" fill="#ef5350"/>
<rect x="498" y="40" width="1" height="71" fill="#26a69a"/>
<rect x="496" y="45" width="5" height="55" fill="#26a69a"/>
<rect x="506" y="28" width="1" height="12" fill="#aed1fc"/>
<rect x="506" y="40" width="1" height="15" fill="#26a69a"/>
<rect x="504" y="34" width="5" height="6" fill="#aed1fc"/>
<rect x="504" y="40" width="5" height="2" fill="#26a69a"/>
<rect x="514" y="26" width="1" height="2" fill="#ef5350"/>
<rect x="514" y="28" width="1" height="12" fill="#672436"/>
<rect x="514" y="40" width="1" height="3" fill="#ef5350"/>
<rect x="512" y="33" width="5" height="6" fill="#672436"/>
<rect x="522" y="24" width="1" height="4" fill="#ef5350"/>
<rect x="522" y="28" width="1" height="12" fill="#672436"/>
<rect x="522" y="40" width="1" height="12" fill="#ef5350"/>
<rect x="520" y="38" width="5" height="2" fill="#672436"/>
<rect x="520" y="40" width="5" height="1" fill="#ef5350"/>
<rect x="530" y="31" width="1" height="9" fill="#672436"/>
<rect x="530" y="40" width="1" height="41" fill="#ef5350"/>
<rect x="528" y="40" width="5" height="35" fill="#ef5350"/>
<rect x="538" y="62" width="1" height="31" fill="#ef5350"/>
<rect x="536" y="73" width="5" height="6" fill="#ef5350"/>
<rect x="546" y="66" width="1" height="16" fill="#26a69a"/>
<rect x="544" y="76" width="5" height="2" fill="#26a69a"/>
<rect x="554" y="67" width="1" height="31" fill="#26a69a"/>
<rect x="552" y="74" width="5" height="3" fill="#26a69a"/>
<rect x="562" y="53" width="1" height="26" fill="#26a69a"/>
<rect x="560" y="64" width="5" height="11" fill="#26a69a"/>
<rect x="570" y="57" width="1" height="23" fill="#ef5350"/>
<rect x="568" y="64" width="5" height="7" fill="#ef5350"/>
<rect x="578" y="51" width="1" height="29" fill="#26a69a"/>
<rect x="576" y="53" width="5" height="18" fill="#26a69a"/>
<rect x="586" y="51" width="1" height="33" fill="#ef5350"/>
<rect x="584" y="55" width="5" height="21" fill="#ef5350"/>
<rect x="594" y="57" width="1" height="29" fill="#26a69a"/>
<rect x="592" y="61" width="5" height="15" fill="#26a69a"/>
<rect x="602" y="34" width="1" height="6" fill="#aed1fc"/>
<rect x="602" y="40" width="1" height="25" fill="#26a69a"/>
<rect x="600" y="36" width="5" height="4" fill="#aed1fc"/>
<rect x="600" y="40" width="5" height="22" fill="#26a69a"/>
<rect x="610" y="38" width="1" height="2" fill="#672436"/>
<rect x="610" y="40" width="1" height="32" fill="#ef5350"/>
<rect x="608" y="40" width="5" height="21" fill="#ef5350"/>
<rect x="618" y="56" width="1" height="26" fill="#ef5350"/>
<rect x="616" y="62" width="5" height="4" fill="#ef5350"/>
<rect x="626" y="57" width="1" height="49" fill="#26a69a"/>
<rect x="624" y="66" width="5" height="23" fill="#26a69a"/>
<rect x="634" y="66" width="1" height="56" fill="#ef5350"/>
<rect x="632" y="67" width="5" height="24" fill="#ef5350"/>
<rect x="642" y="63" width="1" height="41" fill="#26a69a"/>
<rect x="640" y="68" width="5" height="23" fill="#26a69a"/>
<rect x="650" y="61" width="1" height="42" fill="#ef5350"/>
<rect x="648" y="67" width="5" height="20" fill="#ef5350"/>
<rect x="658" y="77" width="1" height="46" fill="#ef5350"/>
<rect x="656" y="86" width="5" height="28" fill="#ef5350"/>
<rect x="666" y="145" width="1" height="12" fill="#ef5350"/>
<rect x="664" y="145" width="5" height="3" fill="#ef5350"/>
<rect x="674" y="88" width="1" height="79" fill="#26a69a"/>
<rect x="672" y="101" width="5" height="46" fill="#26a69a"/>
<rect x="682" y="77" width="1" height="31" fill="#26a69a"/>
<rect x="680" y="99" width="5" height="3" fill="#26a69a"/>
<rect x="690" y="87" width="1" height="30" fill="#ef5350"/>
<rect x="688" y="99" width="5" height="16" fill="#ef5350"/>
<rect x="698" y="107" width="1" height="31" fill="#ef5350"/>
<rect x="696" y="114" width="5" height="19" fill="#ef5350"/>
<rect x="706" y="98" width="1" height="39" fill="#ef5350"/>
<rect x="704" y="114" width="5" height="23" fill="#ef5350"/>
<rect x="714" y="125" width="1" height="15" fill="#26a69a"/>
<rect x="712" y="126" width="5" height="9" fill="#26a69a"/>
<rect x="722" y="99" width="1" height="33" fill="#26a69a"/>
<rect x="720" y="113" width="5" height="14" fill="#26a69a"/>
<rect x="730" y="91" width="1" height="32" fill="#26a69a"/>
<rect x="728" y="105" width="5" height="9" fill="#26a69a"/>
<rect x="738" y="90" width="1" height="53" fill="#ef5350"/>
<rect x="736" y="105" width="5" height="35" fill="#ef5350"/>
<rect x="746" y="129" width="1" height="29" fill="#26a69a"/>
<rect x="744" y="135" width="5" height="5" fill="#26a69a"/>
<rect x="754" y="132" width="1" height="55" fill="#ef5350"/>
<rect x="752" y="136" width="5" height="29" fill="#ef5350"/>
<rect x="762" y="173" width="1" height="13" fill="#26a69a"/>
<rect x="760" y="178" width="5" height="7" fill="#26a69a"/>
<rect x="770" y="112" width="1" height="81" fill="#26a69a"/>
<rect x="770" y="193" width="1" height="7" fill="#49b7f5"/>
<rect x="768" y="144" width="5" height="35" fill="#26a69a"/>
<rect x="778" y="133" width="1" height="37" fill="#26a69a"/>
<rect x="776" y="142" width="5" height="3" fill="#26a69a"/>
<rect x="786" y="132" width="1" height="24" fill="#ef5350"/>
<rect x="784" y="142" width="5" height="10" fill="#ef5350"/>
<rect x="794" y="145" width="1" height="44" fill="#ef5350"/>
<rect x="792" y="151" width="5" height="28" fill="#ef5350"/>
<rect x="802" y="171" width="1" height="22" fill="#ef5350"/>
<rect x="802" y="193" width="1" height="30" fill="#80423f"/>
<rect x="802" y="223" width="1" height="8" fill="#ef5350"/>
<rect x="800" y="178" width="5" height="15" fill="#ef5350"/>
<rect x="800" y="193" width="5" height="30" fill="#80423f"/>
<rect x="800" y="223" width="5" height="5" fill="#ef5350"/>
<rect x="810" y="200" width="1" height="23" fill="#49b7f5"/>
<rect x="810" y="223" width="1" height="18" fill="#26a69a"/>
<rect x="808" y="232" width="5" height="2" fill="#26a69a"/>
<rect x="818" y="166" width="1" height="27" fill="#26a69a"/>
<rect x="818" y="193" width="1" height="30" fill="#49b7f5"/>
<rect x="818" y="223" width="1" height="20" fill="#26a69a"/>
<rect x="816" y="171" width="5" height="22" fill="#26a69a"/>
<rect x="816" y="193" width="5" height="30" fill="#49b7f5"/>
<rect x="816" y="223" width="5" height="10" fill="#26a69a"/>
<rect x="826" y="143" width="1" height="31" fill="#26a69a"/>
<rect x="824" y="155" width="5" height="19" fill="#26a69a"/>
<rect x="834" y="147" width="1" height="46" fill="#26a69a"/>
<rect x="832" y="153" width="5" height="2" fill="#26a69a"/>
<rect x="842" y="148" width="1" height="14" fill="#ef5350"/>
<rect x="840" y="153" width="5" height="7" fill="#ef5350"/>
<rect x="850" y="140" width="1" height="32" fill="#26a69a"/>
<rect x="848" y="144" width="5" height="21" fill="#26a69a"/>
<rect x="858" y="136" width="1" height="35" fill="#26a69a"/>
<rect x="856" y="139" width="5" height="6" fill="#26a69a"/>
<rect x="866" y="79" width="1" height="65" fill="#26a69a"/>
<rect x="864" y="89" width="5" height="43" fill="#26a69a"/>
<rect x="874" y="69" width="1" height="29" fill="#26a69a"/>
<rect x="872" y="74" width="5" height="17" fill="#26a69a"/>
<rect x="882" y="66" width="1" height="14" fill="#ef5350"/>
<rect x="880" y="75" width="5" height="2" fill="#ef5350"/>
<rect x="890" y="52" width="1" height="54" fill="#26a69a"/>
<rect x="888" y="52" width="5" height="50" fill="#26a69a"/>
<rect x="898" y="47" width="1" height="9" fill="#26a69a"/>
<rect x="896" y="49" width="5" height="5" fill="#26a69a"/>
</g>
<rect x="3" y="23" width="930" height="1" fill="#000"/>
<rect x="3" y="146" width="930" height="1" fill="#000"/>
<rect x="3" y="183" width="930" height="1" fill="#000"/>
<rect x="3" y="235" width="930" height="1" fill="#000"/>
<defs><clipPath id="cg"><rect x="3" y="193" width="927" height="30"/></clipPath><clipPath id="cm"><rect x="3" y="3" width="927" height="245"/></clipPath></defs>
<g clip-path="url(#cm)"><polyline points="290.5,248 298.5,246.7 322.5,240.4 338.5,235.0 354.5,229.9 366.5,225.7 386.5,218.2 418.5,208.5 446.5,199.0 466.5,192.1 482.5,187.6 498.5,184.2 514.5,179.5 526.5,176.6 546.5,171.1 562.5,168.2 578.5,165.6 594.5,162.1 606.5,159.6 626.5,155.0 642.5,152.4 658.5,149.3 674.5,146.6 686.5,145.0 698.5,142.6 706.5,141.2 714.5,140.2 722.5,139.3 730.5,138.2 738.5,137.1 746.5,136.2 754.5,135.8 762.5,134.1 770.5,133.5 778.5,132.0 786.5,131.0 794.5,130.15 802.5,129.2 818.5,128.5 826.5,128 834.5,127.5 842.5,126.3 850.5,125.7 858.5,125.3 866.5,124.05 874.5,123.1 882.5,122.4 890.5,121.2 898.5,120.8" fill="none" stroke="#0000ff" stroke-width="2"/></g>
<g clip-path="url(#cg)"><polyline points="290.5,248 298.5,246.7 322.5,240.4 338.5,235.0 354.5,229.9 366.5,225.7 386.5,218.2 418.5,208.5 446.5,199.0 466.5,192.1 482.5,187.6 498.5,184.2 514.5,179.5 526.5,176.6 546.5,171.1 562.5,168.2 578.5,165.6 594.5,162.1 606.5,159.6 626.5,155.0 642.5,152.4 658.5,149.3 674.5,146.6 686.5,145.0 698.5,142.6 706.5,141.2 714.5,140.2 722.5,139.3 730.5,138.2 738.5,137.1 746.5,136.2 754.5,135.8 762.5,134.1 770.5,133.5 778.5,132.0 786.5,131.0 794.5,130.15 802.5,129.2 818.5,128.5 826.5,128 834.5,127.5 842.5,126.3 850.5,125.7 858.5,125.3 866.5,124.05 874.5,123.1 882.5,122.4 890.5,121.2 898.5,120.8" fill="none" stroke="#6f1190" stroke-width="2"/></g>
<defs><clipPath id="ci"><rect x="3" y="250" width="927" height="467"/></clipPath></defs><g clip-path="url(#ci)">
<polyline points="2.5,294 10.5,293.4 18.5,293 26.5,303.9 34.5,304.1 42.5,309.2 50.5,314.2 58.5,307.9 66.5,315.7 74.5,310.4 82.5,301.9 90.5,298 98.5,295 106.5,295 114.5,294 122.5,295.9 130.5,295.7 138.5,293.2 146.5,293 154.5,293 162.5,294.2 170.5,295.9 178.5,292 186.5,289.9 194.5,299.9 202.5,300.4 210.5,303.2 218.5,307.9 226.5,299 234.5,293.7 242.5,290.7 250.5,288.7 258.5,288 266.5,288 274.5,292.0 282.5,292.0 290.5,297.9 298.5,297.9 306.5,294.0 314.5,289.9 322.5,292.0 330.5,292.0 338.5,288.7 346.5,288.7 354.5,289.9 362.5,295.9 370.5,293.7 378.5,293.7 386.5,302.0 394.5,310.4 402.5,301.2 410.5,299.0 418.5,298.7 426.5,295.4 434.5,292.0 442.5,292.0 450.5,295.4 458.5,297.5 466.5,294.9 474.5,302.5 482.5,302.5 490.5,314.9 498.5,299.0 506.5,297.9 514.5,297.9 522.5,298.7 530.5,307.5 538.5,307.5 546.5,307.5 554.5,306.5 562.5,303.7 570.5,304.7 578.5,300.9 586.5,305.9 594.5,302.5 602.5,295.9 610.5,301.5 618.5,302.5 626.5,302.5 634.5,309.0 642.5,303.4 650.5,306.7 658.5,312.6 666.5,317.9 674.5,305.9 682.5,306.2 690.5,308.4 698.5,311.5 706.5,311.7 714.5,309.0 722.5,306.2 730.5,305.0 738.5,310.7 746.5,310.7 754.5,315.4 762.5,316.7 770.5,307.5 778.5,307.5 786.5,309.0 794.5,314.6 802.5,320.7 810.5,320.7 818.5,307.0 826.5,302.9 834.5,303.4 842.5,303.7 850.5,301.2 858.5,300.9 866.5,291.2 874.5,289.0 882.5,288.7 890.5,286.2 898.5,286.0" fill="none" stroke="#000" stroke-width="2" stroke-linejoin="round" stroke-linecap="square"/>
<polyline points="2.5,401.55 10.5,396.21 18.5,393.71 26.5,411.23 34.5,421.74 42.5,421.74 50.5,429.91 58.5,420.74 66.5,421.74 74.5,421.74 82.5,407.89 90.5,397.05 98.5,386.2 106.5,385.87 114.5,383.7 122.5,384.87 130.5,383.2 138.5,382.86 146.5,383.7 154.5,383.7 162.5,387.37 170.5,389.04 178.5,386.54 186.5,382.03 194.5,397.88 202.5,412.9 210.5,435.42 218.5,439.59 226.5,408.72 234.5,390.37 242.5,370.02 250.5,369.18 258.5,369.02 266.5,373.69 274.5,382.53 282.5,386.2 290.5,395.04 298.5,396.21 306.5,391.21 314.5,385.87 322.5,384.87 330.5,390.04 338.5,379.03 346.5,379.03 354.5,377.86 362.5,398.38 370.5,388.7 378.5,388.7 386.5,419.23 394.5,429.58 402.5,417.9 410.5,404.22 418.5,402.38 426.5,400.88 434.5,382.86 442.5,382.86 450.5,394.54 458.5,396.71 466.5,396.04 474.5,399.55 482.5,409.56 490.5,429.58 498.5,410.39 506.5,390.37 514.5,387.54 522.5,392.87 530.5,415.4 538.5,421.74 546.5,417.07 554.5,417.07 562.5,405.89 570.5,406.72 578.5,400.38 586.5,405.89 594.5,403.72 602.5,383.7 610.5,395.38 618.5,405.39 626.5,415.4 634.5,432.92 642.5,410.89 650.5,416.23 658.5,432.08 666.5,447.93 674.5,420.4 682.5,405.72 690.5,409.56 698.5,417.07 706.5,414.23 714.5,414.06 722.5,405.39 730.5,399.21 738.5,409.56 746.5,418.73 754.5,428.41 762.5,432.92 770.5,412.06 778.5,410.39 786.5,407.89 794.5,419.57 802.5,433.75 810.5,432.08 818.5,414.56 826.5,399.21 834.5,399.05 842.5,392.87 850.5,389.04 858.5,386.54 866.5,366.51 874.5,363.18 882.5,368.68 890.5,374.86 898.5,376.19" fill="none" stroke="#0000ff" stroke-width="2" stroke-linejoin="round" stroke-linecap="square"/>
<path d="M528.5 515v2M289.5 489v2M206.5 481v2M110.5 513v2M260.5 479v2M207.5 483v2M283.5 477v2M286.5 483v2M203.5 475v2M264.5 473v2M107.5 517v2M225.5 508v2M548.5 488v2M256.5 486v2M718.5 509v2M820.5 519v2M301.5 504v2M251.5 494v2M243.5 506v2M809.5 519v2M390.5 534v2M497.5 518v2M247.5 500v2M113.5 509v2M303.5 507v2M220.5 500v2M805.5 525v2M493.5 524v2M524.5 520v2M224.5 506v2M665.5 486v2M676.5 492v2M531.5 511v2M209.5 487v2M547.5 490v2M288.5 487v2M205.5 479v2M661.5 493v2M356.5 523v2M285.5 481v2M202.5 473v2M766.5 525v2M603.5 506v2M360.5 528v2M721.5 513v2M254.5 489v2M208.5 485v2M284.5 479v2M680.5 497v2M219.5 498v2M484.5 536v2M542.5 496v2M204.5 477v2M550.5 485v2M78.5 526v2M734.5 526v2M222.5 503v2M257.5 484v2M249.5 497v2M795.5 539v2M294.5 495v2M147.5 494v2M807.5 522v2M495.5 521v2M664.5 488v2M606.5 510v2M533.5 508v2M305.5 510v2M553.5 480v2M715.5 505v2M245.5 503v2M824.5 524v2M491.5 527v2M252.5 492v2M798.5 535v2M150.5 490v2M153.5 486v2M801.5 531v2M552.5 482v2M326.5 521v2M259.5 481v2M535.5 505v2M262.5 476v2M660.5 495v2M488.5 531v2M299.5 501v2M803.5 528v2M265.5 471v2M663.5 490v2M659.5 497v2M609.5 514v2M537.5 502v2M287.5 485v2M377 539.5h10M433 539.5h1M482 539.5h1M780 539.5h1M19 532.5h1M45 532.5h2M85 532.5h4M91 532.5h1M363 532.5h2M392 532.5h1M410 532.5h2M772 532.5h1M834 532.5h2M876 532.5h1M157 486.5h4M173 486.5h2M571 486.5h1M667 486.5h2M142 498.5h2M296 498.5h1M541 498.5h1M591 498.5h1M442 544.5h3M471 544.5h4M786 544.5h2M179 482.5h2M561 482.5h3M323 518.5h1M503 518.5h4M526 518.5h1M613 518.5h2M625 518.5h2M725 518.5h2M810 518.5h5M819 518.5h1M2 524.5h1M55 524.5h1M76 524.5h1M100 524.5h1M328 524.5h1M348 524.5h2M514 524.5h5M732 524.5h1M757 524.5h2M765 524.5h1M806 524.5h1M10 531.5h9M47 531.5h1M82 531.5h3M92 531.5h1M362 531.5h1M393 531.5h1M408 531.5h2M738 531.5h9M771 531.5h1M832 531.5h2M877 531.5h2M890 531.5h2M24 536.5h1M37 536.5h4M370 536.5h2M389 536.5h1M418 536.5h3M429 536.5h1M777 536.5h1M842 536.5h5M855 536.5h8M868 536.5h3M105 520.5h1M325 520.5h1M496 520.5h1M509 520.5h1M616 520.5h2M620 520.5h3M728 520.5h1M445 545.5h4M466 545.5h5M154 485.5h3M175 485.5h1M569 485.5h2M666 485.5h1M5 527.5h2M51 527.5h1M97 527.5h1M359 527.5h1M401 527.5h2M752 527.5h2M767 527.5h1M804 527.5h1M826 527.5h1M882 527.5h2M231 513.5h1M236 513.5h1M308 513.5h2M530 513.5h1M608 513.5h1M633 513.5h1M161 487.5h6M171 487.5h2M549 487.5h1M572 487.5h1M669 487.5h2M178 483.5h1M258 483.5h1M564 483.5h3M106 519.5h1M324 519.5h1M507 519.5h2M525 519.5h1M615 519.5h1M623 519.5h2M727 519.5h1M57 522.5h1M63 522.5h12M103 522.5h1M352 522.5h2M355 522.5h1M511 522.5h2M523 522.5h1M730 522.5h1M760 522.5h2M763 522.5h1M822 522.5h1M140 499.5h2M248 499.5h1M297 499.5h1M540 499.5h1M592 499.5h2M658 499.5h1M681 499.5h1M25 537.5h1M31 537.5h6M372 537.5h3M388 537.5h1M430 537.5h1M778 537.5h1M797 537.5h1M863 537.5h5M58 521.5h5M104 521.5h1M354 521.5h1M510 521.5h1M618 521.5h2M729 521.5h1M762 521.5h1M808 521.5h1M821 521.5h1M8 529.5h1M49 529.5h1M80 529.5h1M95 529.5h1M396 529.5h3M405 529.5h2M490 529.5h1M736 529.5h1M749 529.5h2M769 529.5h1M829 529.5h2M880 529.5h1M886 529.5h2M895 529.5h2M201 473.5h1M273 473.5h3M3 525.5h1M53 525.5h2M77 525.5h1M99 525.5h1M329 525.5h1M343 525.5h5M357 525.5h1M733 525.5h1M755 525.5h2M266 470.5h2M176 484.5h2M551 484.5h1M567 484.5h2M132 502.5h3M221 502.5h1M246 502.5h1M597 502.5h2M655 502.5h1M684 502.5h1M119 506.5h2M302 506.5h1M651 506.5h1M689 506.5h1M692 506.5h2M7 528.5h1M50 528.5h1M79 528.5h1M96 528.5h1M399 528.5h2M403 528.5h2M735 528.5h1M751 528.5h1M768 528.5h1M827 528.5h2M881 528.5h1M884 528.5h2M897 528.5h1M125 504.5h4M536 504.5h1M600 504.5h2M653 504.5h1M687 504.5h1M696 504.5h2M701 504.5h4M711 504.5h4M452 547.5h3M462 547.5h2M9 530.5h1M48 530.5h1M81 530.5h1M93 530.5h2M361 530.5h1M394 530.5h2M407 530.5h1M489 530.5h1M737 530.5h1M747 530.5h2M770 530.5h1M802 530.5h1M831 530.5h1M879 530.5h1M888 530.5h2M892 530.5h3M232 514.5h2M235 514.5h1M310 514.5h2M529 514.5h1M631 514.5h2M149 492.5h1M213 492.5h1M291 492.5h1M546 492.5h1M578 492.5h2M662 492.5h1M181 481.5h1M559 481.5h2M129 503.5h3M300 503.5h1M599 503.5h1M654 503.5h1M685 503.5h2M698 503.5h3M319 517.5h4M498 517.5h5M527 517.5h1M611 517.5h2M627 517.5h2M724 517.5h1M815 517.5h4M146 496.5h1M217 496.5h1M250 496.5h1M587 496.5h2M679 496.5h1M21 534.5h2M43 534.5h1M367 534.5h1M414 534.5h2M425 534.5h2M486 534.5h1M775 534.5h1M799 534.5h1M838 534.5h2M873 534.5h2M121 505.5h4M223 505.5h1M244 505.5h1M602 505.5h1M652 505.5h1M688 505.5h1M694 505.5h2M705 505.5h6M4 526.5h1M52 526.5h1M98 526.5h1M330 526.5h13M358 526.5h1M492 526.5h1M754 526.5h1M825 526.5h1M23 535.5h1M41 535.5h2M368 535.5h2M416 535.5h2M421 535.5h4M427 535.5h2M485 535.5h1M776 535.5h1M840 535.5h2M847 535.5h8M871 535.5h2M135 501.5h2M538 501.5h1M595 501.5h2M656 501.5h1M683 501.5h1M271 472.5h2M56 523.5h1M75 523.5h1M101 523.5h2M327 523.5h1M350 523.5h2M494 523.5h1M513 523.5h1M519 523.5h4M731 523.5h1M759 523.5h1M764 523.5h1M823 523.5h1M197 474.5h4M276 474.5h3M109 515.5h1M234 515.5h1M312 515.5h2M630 515.5h1M722 515.5h1M26 538.5h5M375 538.5h2M387 538.5h1M431 538.5h2M483 538.5h1M779 538.5h1M796 538.5h1M215 494.5h1M293 494.5h1M544 494.5h1M583 494.5h2M677 494.5h1M20 533.5h1M44 533.5h1M89 533.5h2M365 533.5h2M391 533.5h1M412 533.5h2M487 533.5h1M773 533.5h2M800 533.5h1M836 533.5h2M875 533.5h1M144 497.5h2M218 497.5h1M295 497.5h1M589 497.5h2M455 548.5h2M460 548.5h2M186 477.5h3M189 476.5h4M281 476.5h2M212 491.5h1M253 491.5h1M290 491.5h1M577 491.5h1M675 491.5h1M116 507.5h3M534 507.5h1M647 507.5h4M690 507.5h2M716 507.5h1M457 549.5h3M241 509.5h1M304 509.5h1M605 509.5h1M640 509.5h2M449 546.5h3M464 546.5h2M193 475.5h4M263 475.5h1M279 475.5h2M114 508.5h2M242 508.5h1M604 508.5h1M642 508.5h5M717 508.5h1M183 479.5h2M554 479.5h2M216 495.5h1M543 495.5h1M585 495.5h2M678 495.5h1M434 540.5h2M480 540.5h2M781 540.5h2M438 542.5h2M477 542.5h2M784 542.5h1M791 542.5h2M108 516.5h1M314 516.5h5M610 516.5h1M629 516.5h1M723 516.5h1M137 500.5h3M298 500.5h1M539 500.5h1M594 500.5h1M657 500.5h1M682 500.5h1M440 543.5h2M475 543.5h2M785 543.5h1M788 543.5h3M148 493.5h1M214 493.5h1M292 493.5h1M545 493.5h1M580 493.5h3M152 488.5h1M167 488.5h4M255 488.5h1M573 488.5h2M671 488.5h1M226 510.5h1M240 510.5h1M532 510.5h1M638 510.5h2M151 489.5h1M210 489.5h1M575 489.5h1M672 489.5h2M111 512.5h1M229 512.5h2M237 512.5h2M306 512.5h2M607 512.5h1M634 512.5h2M720 512.5h1M185 478.5h1M261 478.5h1M268 471.5h3M112 511.5h1M227 511.5h2M239 511.5h1M636 511.5h2M719 511.5h1M436 541.5h2M479 541.5h1M783 541.5h1M793 541.5h2M182 480.5h1M556 480.5h3M211 490.5h1M576 490.5h1M674 490.5h1" fill="none" stroke="#000" stroke-width="1"/>
<polyline points="2.5,523.35 10.5,521.02 18.5,512.97 26.5,523.35 34.5,534.09 42.5,543.05 50.5,549.31 58.5,555.94 66.5,546.63 74.5,552.54 82.5,535.88 90.5,519.77 98.5,497.75 106.5,510.82 114.5,485.75 122.5,500.97 130.5,513.5 138.5,517.08 146.5,520.13 154.5,509.03 162.5,519.77 170.5,530.15 178.5,520.13 186.5,522.1 194.5,531.77 202.5,541.26 210.5,548.42 218.5,554.68 226.5,545.73 234.5,540.72 242.5,508.67 250.5,494.7 258.5,480.02 266.5,484.86 274.5,500.97 282.5,512.25 290.5,523.35 298.5,534.09 306.5,526.04 314.5,515.65 322.5,512.97 330.5,522.81 338.5,505.8 346.5,513.5 354.5,516.19 362.5,526.93 370.5,526.93 378.5,536.78 386.5,544.84 394.5,551.64 402.5,548.42 410.5,538.03 418.5,545.73 426.5,551.64 434.5,536.78 442.5,529.26 450.5,536.78 458.5,544.84 466.5,552.0 474.5,555.22 482.5,560.95 490.5,565.78 498.5,569.9 506.5,555.04 514.5,555.04 522.5,560.95 530.5,566.32 538.5,570.26 546.5,574.02 554.5,576.53 562.5,556.83 570.5,560.95 578.5,556.83 586.5,561.85 594.5,565.78 602.5,537.67 610.5,545.73 618.5,552.89 626.5,558.26 634.5,563.28 642.5,565.07 650.5,566.86 658.5,571.16 666.5,574.92 674.5,545.73 682.5,536.78 690.5,544.84 698.5,551.1 706.5,547.52 714.5,553.79 722.5,523.89 730.5,522.81 738.5,531.77 746.5,540.36 754.5,549.31 762.5,554.68 770.5,530.51 778.5,540.36 786.5,544.3 794.5,551.1 802.5,557.37 810.5,561.85 818.5,545.73 826.5,523.35 834.5,532.3 842.5,540.72 850.5,547.52 858.5,548.95 866.5,516.19 874.5,511.36 882.5,510.82 890.5,522.81 898.5,505.45" fill="none" stroke="#00ff7f" stroke-width="2" stroke-linejoin="round" stroke-linecap="square"/>
<polyline points="2.5,522.1 10.5,531.05 18.5,540.0 26.5,515.29 34.5,500.61 42.5,509.03 50.5,496.49 58.5,511.36 66.5,521.56 74.5,523.89 82.5,534.63 90.5,543.58 98.5,550.21 106.5,556.12 114.5,561.85 122.5,549.31 130.5,553.79 138.5,560.05 146.5,565.07 154.5,570.26 162.5,557.37 170.5,561.85 178.5,567.22 186.5,570.8 194.5,570.8 202.5,574.02 210.5,549.31 218.5,540.72 226.5,548.42 234.5,554.68 242.5,560.05 250.5,565.07 258.5,570.26 266.5,572.95 274.5,547.88 282.5,552.54 290.5,523.35 298.5,519.77 306.5,528.72 314.5,537.32 322.5,545.73 330.5,530.15 338.5,538.21 346.5,545.73 354.5,552.89 362.5,529.62 370.5,537.67 378.5,545.73 386.5,516.19 394.5,497.75 402.5,509.92 410.5,521.02 418.5,531.77 426.5,525.14 434.5,534.09 442.5,541.61 450.5,524.25 458.5,532.84 466.5,526.39 474.5,535.88 482.5,534.99 490.5,520.13 498.5,523.35 506.5,534.09 514.5,541.61 522.5,535.35 530.5,517.08 538.5,512.97 546.5,522.46 554.5,509.92 562.5,520.67 570.5,529.62 578.5,539.46 586.5,541.26 594.5,546.09 602.5,552.89 610.5,550.74 618.5,539.46 626.5,524.6 634.5,521.92 642.5,531.41 650.5,540.0 658.5,528.72 666.5,502.76 674.5,515.29 682.5,526.04 690.5,521.92 698.5,500.97 706.5,514.04 714.5,515.29 722.5,525.14 730.5,535.88 738.5,526.93 746.5,513.5 754.5,501.87 762.5,515.29 770.5,525.14 778.5,534.99 786.5,542.15 794.5,517.08 802.5,496.85 810.5,499.18 818.5,511.71 826.5,522.46 834.5,515.65 842.5,526.04 850.5,521.56 858.5,531.41 866.5,540.0 874.5,548.06 882.5,555.04 890.5,539.82 898.5,546.09" fill="none" stroke="#ff0000" stroke-width="2" stroke-linejoin="round" stroke-linecap="square"/>
<path d="M784.5 630v2M174.5 679v2M62.5 636v2M177.5 684v2M669.5 630v2M61.5 638v2M878.5 614v3M779.5 621v2M882.5 624v2M780.5 623v2M100.5 625v2M38.5 651v2M783.5 628v2M672.5 625v2M524.5 637v2M222.5 680v2M875.5 607v2M668.5 632v2M65.5 630v2M763.5 627v2M874.5 605v2M214.5 689v2M60.5 640v2M176.5 682v2M812.5 617v2M667.5 634v2M877.5 612v2M785.5 632v2M671.5 627v2M781.5 625v2M488.5 646v2M876.5 609v3M496.5 636v2M880.5 619v3M134.5 642v2M492.5 641v2M816.5 612v2M484.5 651v2M104.5 630v2M879.5 617v2M64.5 632v2M673.5 623v2M528.5 632v2M881.5 622v2M172.5 676v2M59.5 642v2M606.5 658v2M63.5 634v2M766.5 623v2M171.5 674v2M769.5 619v2M335 702.5h1M359 702.5h2M226 676.5h5M239 676.5h16M443 676.5h2M330 698.5h1M369 698.5h6M67 628.5h1M102 628.5h1M761 628.5h1M797 628.5h1M74 621.5h5M92 621.5h3M677 621.5h4M712 621.5h2M729 621.5h4M740 621.5h1M768 621.5h1M807 621.5h2M888 621.5h2M892 621.5h3M223 679.5h1M265 679.5h6M426 679.5h11M71 624.5h1M99 624.5h1M743 624.5h1M752 624.5h2M755 624.5h2M801 624.5h1M883 624.5h2M79 620.5h13M681 620.5h6M695 620.5h6M710 620.5h2M733 620.5h4M739 620.5h1M777 620.5h2M809 620.5h2M890 620.5h2M530 630.5h2M795 630.5h1M114 640.5h3M132 640.5h1M493 640.5h1M512 640.5h1M521 640.5h2M574 640.5h1M657 640.5h1M219 684.5h1M294 684.5h2M397 684.5h1M417 684.5h2M109 636.5h2M507 636.5h1M525 636.5h1M565 636.5h4M665 636.5h2M818 610.5h1M848 610.5h2M855 610.5h5M42 647.5h2M138 647.5h1M586 647.5h5M649 647.5h2M9 670.5h6M19 670.5h1M166 670.5h1M459 670.5h1M70 625.5h1M744 625.5h1M750 625.5h2M757 625.5h1M765 625.5h1M800 625.5h1M112 638.5h1M121 638.5h10M495 638.5h1M509 638.5h2M571 638.5h2M660 638.5h3M107 634.5h1M498 634.5h5M527 634.5h1M560 634.5h2M786 634.5h2M325 695.5h2M382 695.5h2M106 633.5h1M537 633.5h12M558 633.5h2M788 633.5h3M40 649.5h1M140 649.5h1M486 649.5h1M595 649.5h2M633 649.5h1M637 649.5h4M644 649.5h3M144 652.5h1M599 652.5h2M630 652.5h1M221 682.5h1M287 682.5h5M399 682.5h2M409 682.5h4M421 682.5h2M133 641.5h1M513 641.5h1M517 641.5h4M575 641.5h2M656 641.5h1M184 690.5h2M191 690.5h5M306 690.5h5M389 690.5h2M198 692.5h2M212 692.5h1M317 692.5h4M387 692.5h1M338 705.5h13M39 650.5h1M141 650.5h2M485 650.5h1M597 650.5h1M632 650.5h1M641 650.5h3M821 608.5h2M845 608.5h2M863 608.5h2M26 663.5h1M155 663.5h2M466 663.5h1M610 663.5h5M619 663.5h1M181 688.5h2M215 688.5h1M302 688.5h2M392 688.5h1M27 662.5h1M154 662.5h1M467 662.5h2M609 662.5h1M620 662.5h1M72 623.5h1M97 623.5h2M719 623.5h6M742 623.5h1M754 623.5h1M802 623.5h2M885 623.5h2M897 623.5h1M231 675.5h8M445 675.5h1M225 677.5h1M255 677.5h6M441 677.5h2M73 622.5h1M95 622.5h2M674 622.5h3M714 622.5h5M725 622.5h4M741 622.5h1M767 622.5h1M804 622.5h3M887 622.5h1M895 622.5h2M29 660.5h2M152 660.5h1M470 660.5h1M607 660.5h1M622 660.5h1M529 631.5h1M532 631.5h3M553 631.5h3M793 631.5h2M31 659.5h1M151 659.5h1M471 659.5h2M623 659.5h1M68 627.5h1M101 627.5h1M746 627.5h2M759 627.5h2M782 627.5h1M798 627.5h1M337 704.5h1M351 704.5h5M202 694.5h9M323 694.5h2M384 694.5h2M178 686.5h1M217 686.5h1M298 686.5h2M394 686.5h1M173 678.5h1M224 678.5h1M261 678.5h4M437 678.5h4M15 671.5h4M167 671.5h2M450 671.5h9M687 619.5h8M701 619.5h4M708 619.5h2M737 619.5h2M773 619.5h4M811 619.5h1M832 602.5h2M835 602.5h2M220 683.5h1M292 683.5h2M398 683.5h1M413 683.5h4M419 683.5h2M49 644.5h10M135 644.5h1M490 644.5h1M580 644.5h2M653 644.5h1M111 637.5h1M508 637.5h1M569 637.5h2M663 637.5h2M44 646.5h3M137 646.5h1M584 646.5h2M651 646.5h1M105 632.5h1M535 632.5h2M549 632.5h4M556 632.5h2M791 632.5h2M69 626.5h1M745 626.5h1M748 626.5h2M758 626.5h1M764 626.5h1M799 626.5h1M824 606.5h2M842 606.5h1M869 606.5h4M25 664.5h1M157 664.5h2M465 664.5h1M615 664.5h4M817 611.5h1M850 611.5h5M33 657.5h1M149 657.5h1M474 657.5h2M605 657.5h1M625 657.5h1M336 703.5h1M356 703.5h3M175 681.5h1M279 681.5h8M401 681.5h1M405 681.5h4M423 681.5h1M41 648.5h1M139 648.5h1M487 648.5h1M591 648.5h4M634 648.5h3M647 648.5h2M826 605.5h2M840 605.5h2M873 605.5h1M828 604.5h2M839 604.5h1M32 658.5h1M150 658.5h1M473 658.5h1M624 658.5h1M35 655.5h1M147 655.5h1M479 655.5h2M603 655.5h1M627 655.5h1M22 667.5h1M162 667.5h1M462 667.5h1M36 654.5h1M146 654.5h1M481 654.5h2M602 654.5h1M628 654.5h1M823 607.5h1M843 607.5h2M865 607.5h4M34 656.5h1M148 656.5h1M476 656.5h3M604 656.5h1M626 656.5h1M271 680.5h8M402 680.5h3M424 680.5h2M327 696.5h1M380 696.5h2M47 645.5h2M136 645.5h1M489 645.5h1M582 645.5h2M652 645.5h1M333 701.5h2M361 701.5h3M830 603.5h2M837 603.5h2M514 642.5h3M577 642.5h1M655 642.5h1M2 668.5h3M21 668.5h1M163 668.5h2M461 668.5h1M37 653.5h1M145 653.5h1M483 653.5h1M601 653.5h1M629 653.5h1M113 639.5h1M117 639.5h4M131 639.5h1M494 639.5h1M511 639.5h1M523 639.5h1M573 639.5h1M658 639.5h2M5 669.5h4M20 669.5h1M165 669.5h1M460 669.5h1M331 699.5h1M367 699.5h2M186 691.5h5M196 691.5h2M213 691.5h1M311 691.5h6M388 691.5h1M218 685.5h1M296 685.5h2M395 685.5h2M179 687.5h2M216 687.5h1M300 687.5h2M393 687.5h1M332 700.5h1M364 700.5h3M705 618.5h3M770 618.5h3M819 609.5h2M847 609.5h1M860 609.5h3M28 661.5h1M153 661.5h1M469 661.5h1M608 661.5h1M621 661.5h1M183 689.5h1M304 689.5h2M391 689.5h1M66 629.5h1M103 629.5h1M670 629.5h1M762 629.5h1M796 629.5h1M169 672.5h1M449 672.5h1M328 697.5h2M375 697.5h5M108 635.5h1M497 635.5h1M503 635.5h4M526 635.5h1M562 635.5h3M143 651.5h1M598 651.5h1M631 651.5h1M23 666.5h1M160 666.5h2M463 666.5h1M24 665.5h1M159 665.5h1M464 665.5h1M200 693.5h2M211 693.5h1M321 693.5h2M386 693.5h1M814 615.5h1M170 673.5h1M447 673.5h2M834 601.5h1M491 643.5h1M578 643.5h2M654 643.5h1M813 616.5h1M446 674.5h1M815 614.5h1" fill="none" stroke="#00008b" stroke-width="1"/>
</g>
<rect x="2" y="2" width="929" height="1" fill="#000"/>
<rect x="2" y="248" width="929" height="1" fill="#000"/>
<rect x="2" y="2" width="1" height="247" fill="#000"/>
<rect x="930" y="2" width="1" height="247" fill="#000"/>
<rect x="2" y="250" width="929" height="1" fill="#000"/>
<rect x="2" y="351" width="929" height="1" fill="#000"/>
<rect x="2" y="250" width="1" height="102" fill="#000"/>
<rect x="930" y="250" width="1" height="102" fill="#000"/>
<rect x="2" y="353" width="929" height="1" fill="#000"/>
<rect x="2" y="457" width="929" height="1" fill="#000"/>
<rect x="2" y="353" width="1" height="105" fill="#000"/>
<rect x="930" y="353" width="1" height="105" fill="#000"/>
<rect x="2" y="459" width="929" height="1" fill="#000"/>
<rect x="2" y="588" width="929" height="1" fill="#000"/>
<rect x="2" y="459" width="1" height="130" fill="#000"/>
<rect x="930" y="459" width="1" height="130" fill="#000"/>
<rect x="2" y="590" width="929" height="1" fill="#000"/>
<rect x="2" y="716" width="929" height="1" fill="#000"/>
<rect x="2" y="590" width="1" height="127" fill="#000"/>
<rect x="930" y="590" width="1" height="127" fill="#000"/>
<defs><filter id="crisp" x="0" y="0" width="100%" height="100%" filterUnits="userSpaceOnUse" color-interpolation-filters="sRGB"><feComponentTransfer><feFuncA type="table" tableValues="0 0.38 0.7 0.9 1"/></feComponentTransfer></filter></defs>
<g font-family="'Liberation Sans', Arial, sans-serif" font-size="10.17px" shape-rendering="auto" text-rendering="geometricPrecision" filter="url(#crisp)">
<text x="6.60" y="13" fill="#000" textLength="59.19" lengthAdjust="spacingAndGlyphs" xml:space="preserve">US500, Daily:</text>
<text x="72.00" y="13" fill="#000" textLength="34.89" lengthAdjust="spacingAndGlyphs" xml:space="preserve">S&amp;P 500</text>
<text x="114.00" y="13" fill="#000" textLength="51.99" lengthAdjust="spacingAndGlyphs" xml:space="preserve">Index Future</text>
<text x="172.70" y="13" fill="#000" textLength="32.50" lengthAdjust="spacingAndGlyphs" xml:space="preserve">6924.95</text>
<text x="208.60" y="13" fill="#000" textLength="32.40" lengthAdjust="spacingAndGlyphs" xml:space="preserve">6941.83</text>
<text x="244.40" y="13" fill="#000" textLength="32.60" lengthAdjust="spacingAndGlyphs" xml:space="preserve">6919.83</text>
<text x="280.80" y="13" fill="#000" textLength="32.40" lengthAdjust="spacingAndGlyphs" xml:space="preserve">6935.83</text>
<text x="5.80" y="263" fill="#000" textLength="57.31" lengthAdjust="spacingAndGlyphs" xml:space="preserve">RSI(14) 65.17</text>
<text x="5.80" y="366" fill="#000" textLength="64.32" lengthAdjust="spacingAndGlyphs" xml:space="preserve">CCI(14) 129.98</text>
<text x="5.90" y="472" fill="#000" textLength="112.31" lengthAdjust="spacingAndGlyphs" xml:space="preserve">ADX(14) 21.13 27.92 15.48</text>
<text x="5.90" y="603" fill="#000" textLength="65.41" lengthAdjust="spacingAndGlyphs" xml:space="preserve">ATR(14) 116.45</text>
<rect x="931" y="56" width="4" height="1" fill="#000"/>
<text x="935.80" y="60" fill="#000" textLength="32.30" lengthAdjust="spacingAndGlyphs" xml:space="preserve">6915.60</text>
<rect x="931" y="88" width="4" height="1" fill="#000"/>
<text x="935.80" y="92" fill="#000" textLength="32.30" lengthAdjust="spacingAndGlyphs" xml:space="preserve">6818.85</text>
<rect x="931" y="120" width="4" height="1" fill="#000"/>
<text x="935.80" y="124" fill="#000" textLength="32.30" lengthAdjust="spacingAndGlyphs" xml:space="preserve">6722.10</text>
<rect x="931" y="152" width="4" height="1" fill="#000"/>
<text x="935.80" y="156" fill="#000" textLength="32.30" lengthAdjust="spacingAndGlyphs" xml:space="preserve">6625.35</text>
<rect x="931" y="216" width="4" height="1" fill="#000"/>
<text x="935.80" y="220" fill="#000" textLength="32.30" lengthAdjust="spacingAndGlyphs" xml:space="preserve">6431.85</text>
<rect x="933" y="18" width="39" height="11" fill="#000"/>
<text x="935.80" y="27" fill="#fff" textLength="32.30" lengthAdjust="spacingAndGlyphs" xml:space="preserve">7014.64</text>
<rect x="933" y="141" width="39" height="11" fill="#000"/>
<text x="935.80" y="150" fill="#fff" textLength="32.30" lengthAdjust="spacingAndGlyphs" xml:space="preserve">6643.68</text>
<rect x="933" y="178" width="39" height="11" fill="#000"/>
<text x="935.80" y="187" fill="#fff" textLength="32.30" lengthAdjust="spacingAndGlyphs" xml:space="preserve">6533.12</text>
<rect x="933" y="230" width="39" height="11" fill="#000"/>
<text x="935.80" y="239" fill="#fff" textLength="32.30" lengthAdjust="spacingAndGlyphs" xml:space="preserve">6373.41</text>
<rect x="931" y="280" width="4" height="1" fill="#000"/>
<text x="935.80" y="284" fill="#000" textLength="22.28" lengthAdjust="spacingAndGlyphs" xml:space="preserve">70.00</text>
<rect x="931" y="321" width="4" height="1" fill="#000"/>
<text x="935.80" y="325" fill="#000" textLength="22.28" lengthAdjust="spacingAndGlyphs" xml:space="preserve">30.00</text>
<rect x="931" y="381" width="4" height="1" fill="#000"/>
<text x="936.70" y="385" fill="#000" textLength="26.39" lengthAdjust="spacingAndGlyphs" xml:space="preserve">100.00</text>
<text x="935.80" y="402" fill="#000" textLength="17.31" lengthAdjust="spacingAndGlyphs" xml:space="preserve">0.00</text>
<rect x="931" y="416" width="4" height="1" fill="#000"/>
<text x="935.80" y="420" fill="#000" textLength="30.32" lengthAdjust="spacingAndGlyphs" xml:space="preserve">-100.00</text>
<rect x="931" y="251" width="4" height="1" fill="#000"/>
<text x="936.70" y="259" fill="#000" textLength="26.39" lengthAdjust="spacingAndGlyphs" xml:space="preserve">100.00</text>
<rect x="931" y="354" width="4" height="1" fill="#000"/>
<text x="935.80" y="362" fill="#000" textLength="27.29" lengthAdjust="spacingAndGlyphs" xml:space="preserve">259.08</text>
<rect x="931" y="460" width="4" height="1" fill="#000"/>
<text x="935.80" y="468" fill="#000" textLength="22.28" lengthAdjust="spacingAndGlyphs" xml:space="preserve">41.83</text>
<rect x="931" y="591" width="4" height="1" fill="#000"/>
<text x="936.70" y="599" fill="#000" textLength="26.39" lengthAdjust="spacingAndGlyphs" xml:space="preserve">143.92</text>
<rect x="931" y="350" width="4" height="1" fill="#000"/>
<text x="935.80" y="349" fill="#000" textLength="17.31" lengthAdjust="spacingAndGlyphs" xml:space="preserve">0.00</text>
<rect x="931" y="456" width="4" height="1" fill="#000"/>
<text x="935.80" y="455" fill="#000" textLength="30.32" lengthAdjust="spacingAndGlyphs" xml:space="preserve">-331.53</text>
<rect x="931" y="587" width="4" height="1" fill="#000"/>
<text x="935.80" y="586" fill="#000" textLength="17.31" lengthAdjust="spacingAndGlyphs" xml:space="preserve">2.98</text>
<rect x="931" y="715" width="4" height="1" fill="#000"/>
<text x="935.80" y="714" fill="#000" textLength="22.28" lengthAdjust="spacingAndGlyphs" xml:space="preserve">42.13</text>
<rect x="2" y="716" width="1" height="5" fill="#000"/>
<text x="2.90" y="729" fill="#000" textLength="52.11" lengthAdjust="spacingAndGlyphs" xml:space="preserve">10 Nov 2025</text>
<rect x="66" y="716" width="1" height="5" fill="#000"/>
<text x="65.70" y="729" fill="#000" textLength="53.21" lengthAdjust="spacingAndGlyphs" xml:space="preserve">20 Nov 2025</text>
<rect x="130" y="716" width="1" height="5" fill="#000"/>
<text x="130.10" y="729" fill="#000" textLength="45.80" lengthAdjust="spacingAndGlyphs" xml:space="preserve">2 Dec 2025</text>
<rect x="194" y="716" width="1" height="5" fill="#000"/>
<text x="195.20" y="729" fill="#000" textLength="49.01" lengthAdjust="spacingAndGlyphs" xml:space="preserve">12 Dec 2025</text>
<rect x="258" y="716" width="1" height="5" fill="#000"/>
<text x="257.50" y="729" fill="#000" textLength="51.31" lengthAdjust="spacingAndGlyphs" xml:space="preserve">24 Dec 2025</text>
<rect x="322" y="716" width="1" height="5" fill="#000"/>
<text x="321.80" y="729" fill="#000" textLength="44.09" lengthAdjust="spacingAndGlyphs" xml:space="preserve">7 Jan 2026</text>
<rect x="386" y="716" width="1" height="5" fill="#000"/>
<text x="386.90" y="729" fill="#000" textLength="47.80" lengthAdjust="spacingAndGlyphs" xml:space="preserve">19 Jan 2026</text>
<rect x="450" y="716" width="1" height="5" fill="#000"/>
<text x="449.70" y="729" fill="#000" textLength="49.10" lengthAdjust="spacingAndGlyphs" xml:space="preserve">29 Jan 2026</text>
<rect x="514" y="716" width="1" height="5" fill="#000"/>
<text x="515.00" y="729" fill="#000" textLength="50.11" lengthAdjust="spacingAndGlyphs" xml:space="preserve">10 Feb 2026</text>
<rect x="578" y="716" width="1" height="5" fill="#000"/>
<text x="578.10" y="729" fill="#000" textLength="51.31" lengthAdjust="spacingAndGlyphs" xml:space="preserve">20 Feb 2026</text>
<rect x="642" y="716" width="1" height="5" fill="#000"/>
<text x="641.90" y="729" fill="#000" textLength="45.79" lengthAdjust="spacingAndGlyphs" xml:space="preserve">4 Mar 2026</text>
<rect x="706" y="716" width="1" height="5" fill="#000"/>
<text x="707.00" y="729" fill="#000" textLength="49.80" lengthAdjust="spacingAndGlyphs" xml:space="preserve">13 Mar 2026</text>
<rect x="770" y="716" width="1" height="5" fill="#000"/>
<text x="770.00" y="729" fill="#000" textLength="50.90" lengthAdjust="spacingAndGlyphs" xml:space="preserve">23 Mar 2026</text>
<rect x="834" y="716" width="1" height="5" fill="#000"/>
<text x="833.90" y="729" fill="#000" textLength="44.98" lengthAdjust="spacingAndGlyphs" xml:space="preserve">2 Apr 2026</text>
<rect x="898" y="716" width="1" height="5" fill="#000"/>
<text x="898.90" y="729" fill="#000" textLength="48.79" lengthAdjust="spacingAndGlyphs" xml:space="preserve">14 Apr 2026</text>
</g>
</svg>
</body></html>
